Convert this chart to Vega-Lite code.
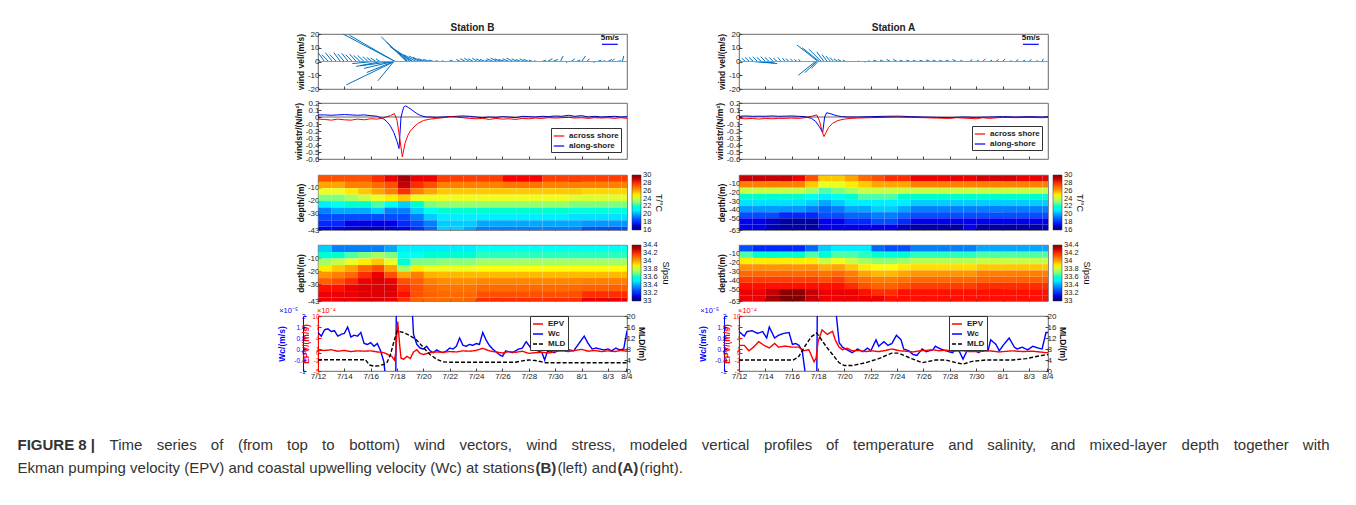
{
"$schema":"https://vega.github.io/schema/vega-lite/v6.json",
"padding":{"left":17,"top":22,"right":5,"bottom":5},
"background":"white",
"config":{
 "font":"Liberation Sans",
 "view":{"stroke":"#444","strokeWidth":0.8},
 "axis":{"domain":false,"grid":false,"ticks":true,"tickSize":-3,"tickColor":"#444","labelFontSize":8,"labelColor":"#222","labelPadding":2,"titleFontSize":8.5,"titleFontWeight":"bold","titleColor":"#111","titlePadding":2,"labelFont":"Liberation Sans","titleFont":"Liberation Sans","labelOverlap":false,"zindex":1},
 "legend":{"labelFontSize":7.5,"labelColor":"#222","titleFontSize":9,"titleFontWeight":"normal","titleColor":"#111","labelOverlap":false,"labelFont":"Liberation Sans","titleFont":"Liberation Sans"},
 "text":{"font":"Liberation Sans"}
},
"datasets":{
"windB":[{"t":0.2,"e":-0.2,"w":3},{"t":0.5,"e":0.0,"w":6.5},{"t":0.8,"e":0.3,"w":5},{"t":1.1,"e":0.55,"w":6.5},{"t":1.4,"e":0.9,"w":5},{"t":1.7,"e":1.2,"w":6.5},{"t":2.0,"e":1.5,"w":5.5},{"t":2.3,"e":1.8,"w":6},{"t":2.6,"e":2.1,"w":5},{"t":2.9,"e":2.4,"w":5.5},{"t":3.2,"e":2.7,"w":4.5},{"t":3.5,"e":3.0,"w":4.5},{"t":3.8,"e":3.4,"w":3.5},{"t":4.1,"e":3.7,"w":3},{"t":4.4,"e":4.0,"w":2.5},{"t":4.7,"e":4.4,"w":2},{"t":4.2,"e":2.6,"w":-1.5},{"t":4.8,"e":3.2,"w":-3},{"t":5.85,"e":1.9,"w":20},{"t":5.85,"e":2.4,"w":19},{"t":5.8,"e":2.15,"w":-17},{"t":5.75,"e":4.55,"w":-14},{"t":5.75,"e":3.7,"w":-8},{"t":5.7,"e":3.5,"w":-5},{"t":5.65,"e":2.9,"w":-3.5},{"t":6.7,"e":4.8,"w":18},{"t":6.8,"e":5.2,"w":14},{"t":6.95,"e":5.45,"w":11},{"t":7.1,"e":5.8,"w":9},{"t":7.2,"e":6.1,"w":7},{"t":7.45,"e":6.5,"w":5},{"t":7.7,"e":6.9,"w":4},{"t":7.95,"e":7.2,"w":3},{"t":8.2,"e":7.6,"w":2},{"t":8.5,"e":8.0,"w":1.5},{"t":8.8,"e":8.4,"w":1},{"t":9.2,"e":8.9,"w":0.5},{"t":9.6,"e":9.4,"w":0.5},{"t":10.3,"e":10.0,"w":1},{"t":10.8,"e":10.5,"w":1.5},{"t":11.2,"e":10.8,"w":2},{"t":11.5,"e":11.1,"w":2.5},{"t":11.8,"e":11.4,"w":2},{"t":12.1,"e":11.7,"w":2.5},{"t":12.4,"e":12.0,"w":2},{"t":12.7,"e":12.3,"w":1.5},{"t":13.0,"e":12.7,"w":1},{"t":13.3,"e":12.8,"w":2},{"t":13.6,"e":13.1,"w":2.5},{"t":13.9,"e":13.4,"w":2},{"t":14.2,"e":13.7,"w":1.5},{"t":14.5,"e":14.0,"w":2},{"t":14.8,"e":14.3,"w":2.5},{"t":15.1,"e":14.7,"w":2},{"t":15.4,"e":15.0,"w":1.5},{"t":15.7,"e":15.3,"w":2},{"t":16.0,"e":15.6,"w":1.5},{"t":16.3,"e":16.0,"w":1},{"t":16.6,"e":16.4,"w":0.5},{"t":17.0,"e":17.3,"w":1},{"t":17.4,"e":17.8,"w":2},{"t":17.8,"e":18.2,"w":1.5},{"t":18.4,"e":18.6,"w":4},{"t":18.8,"e":18.9,"w":-1},{"t":19.2,"e":19.5,"w":2},{"t":19.6,"e":19.9,"w":1},{"t":20.0,"e":20.3,"w":4},{"t":20.4,"e":20.6,"w":2},{"t":20.8,"e":21.0,"w":-0.5},{"t":21.2,"e":21.5,"w":1},{"t":21.6,"e":21.8,"w":0.5},{"t":22.0,"e":22.3,"w":1.5},{"t":22.3,"e":22.5,"w":2},{"t":22.7,"e":23.0,"w":0.5},{"t":23.1,"e":23.2,"w":4}],
"windA":[{"t":0.2,"e":-0.1,"w":1.5},{"t":0.5,"e":0.2,"w":2.5},{"t":0.8,"e":0.45,"w":3},{"t":1.1,"e":0.75,"w":3},{"t":1.4,"e":1.05,"w":3.5},{"t":1.7,"e":1.35,"w":3},{"t":2.0,"e":1.65,"w":3.5},{"t":2.3,"e":1.95,"w":3},{"t":2.6,"e":2.3,"w":3},{"t":2.9,"e":2.6,"w":2.5},{"t":3.2,"e":2.95,"w":3},{"t":3.5,"e":3.3,"w":2.5},{"t":3.8,"e":3.55,"w":2},{"t":4.1,"e":3.9,"w":2},{"t":4.4,"e":4.2,"w":1.5},{"t":4.7,"e":4.5,"w":1.5},{"t":1.1,"e":2.9,"w":-1.5},{"t":1.3,"e":2.7,"w":-1},{"t":1.5,"e":2.5,"w":-0.8},{"t":6.0,"e":4.4,"w":12},{"t":6.1,"e":4.8,"w":10},{"t":6.25,"e":5.3,"w":9},{"t":6.45,"e":5.9,"w":7},{"t":6.7,"e":6.3,"w":5},{"t":6.95,"e":6.6,"w":4},{"t":7.2,"e":6.9,"w":3},{"t":7.5,"e":7.2,"w":2},{"t":7.8,"e":7.5,"w":1.5},{"t":8.1,"e":7.9,"w":1},{"t":5.8,"e":4.5,"w":-10},{"t":5.9,"e":5.0,"w":-8},{"t":6.0,"e":5.5,"w":-5},{"t":9.0,"e":9.1,"w":0.5},{"t":9.5,"e":9.6,"w":-0.5},{"t":10.0,"e":9.8,"w":0.5},{"t":10.5,"e":10.2,"w":1},{"t":11.0,"e":10.7,"w":1},{"t":11.5,"e":11.2,"w":1.5},{"t":12.0,"e":11.7,"w":1.5},{"t":12.5,"e":12.2,"w":1},{"t":13.0,"e":12.7,"w":1},{"t":13.5,"e":13.2,"w":0.8},{"t":14.0,"e":13.7,"w":1},{"t":14.5,"e":14.2,"w":1.2},{"t":15.0,"e":14.7,"w":1},{"t":15.5,"e":15.2,"w":0.8},{"t":16.0,"e":15.7,"w":1},{"t":16.5,"e":16.2,"w":1.5},{"t":17.0,"e":16.8,"w":1},{"t":17.5,"e":17.7,"w":1.5},{"t":18.0,"e":18.2,"w":1},{"t":18.5,"e":18.7,"w":2},{"t":19.0,"e":19.2,"w":1},{"t":19.5,"e":19.7,"w":1.5},{"t":20.0,"e":20.2,"w":2},{"t":20.5,"e":20.7,"w":0.5},{"t":21.0,"e":21.2,"w":1.5},{"t":21.5,"e":21.7,"w":1},{"t":22.0,"e":22.2,"w":1.5},{"t":22.5,"e":22.7,"w":0.5},{"t":23.0,"e":23.1,"w":2}],
"stressB":[{"s":"along-shore","t":0,"v":0.03},{"s":"along-shore","t":0.5,"v":0.03},{"s":"along-shore","t":1,"v":0.025},{"s":"along-shore","t":1.5,"v":0.03},{"s":"along-shore","t":2,"v":0.035},{"s":"along-shore","t":2.5,"v":0.03},{"s":"along-shore","t":3,"v":0.025},{"s":"along-shore","t":3.5,"v":0.03},{"s":"along-shore","t":4,"v":0.02},{"s":"along-shore","t":4.5,"v":0.01},{"s":"along-shore","t":5,"v":-0.03},{"s":"along-shore","t":5.25,"v":-0.07},{"s":"along-shore","t":5.5,"v":-0.13},{"s":"along-shore","t":5.75,"v":-0.22},{"s":"along-shore","t":6,"v":-0.35},{"s":"along-shore","t":6.15,"v":-0.45},{"s":"along-shore","t":6.3,"v":0.0},{"s":"along-shore","t":6.5,"v":0.14},{"s":"along-shore","t":6.65,"v":0.16},{"s":"along-shore","t":6.9,"v":0.13},{"s":"along-shore","t":7.2,"v":0.09},{"s":"along-shore","t":7.5,"v":0.05},{"s":"along-shore","t":7.8,"v":0.02},{"s":"along-shore","t":8.2,"v":0.0},{"s":"along-shore","t":8.5,"v":0.0},{"s":"along-shore","t":9,"v":-0.005},{"s":"along-shore","t":9.5,"v":0.0},{"s":"along-shore","t":10,"v":0.005},{"s":"along-shore","t":10.5,"v":0.01},{"s":"along-shore","t":11,"v":0.015},{"s":"along-shore","t":11.5,"v":0.01},{"s":"along-shore","t":12,"v":0.0},{"s":"along-shore","t":12.5,"v":-0.01},{"s":"along-shore","t":13,"v":0.0},{"s":"along-shore","t":13.5,"v":-0.005},{"s":"along-shore","t":14,"v":0.005},{"s":"along-shore","t":14.5,"v":0.0},{"s":"along-shore","t":15,"v":-0.01},{"s":"along-shore","t":15.5,"v":0.01},{"s":"along-shore","t":16,"v":0.005},{"s":"along-shore","t":16.5,"v":0.0},{"s":"along-shore","t":17,"v":0.01},{"s":"along-shore","t":17.5,"v":0.005},{"s":"along-shore","t":18,"v":0.015},{"s":"along-shore","t":18.5,"v":0.01},{"s":"along-shore","t":19,"v":0.025},{"s":"along-shore","t":19.5,"v":0.01},{"s":"along-shore","t":20,"v":0.02},{"s":"along-shore","t":20.5,"v":0.0},{"s":"along-shore","t":21,"v":0.01},{"s":"along-shore","t":21.5,"v":0.0},{"s":"along-shore","t":22,"v":0.005},{"s":"along-shore","t":22.5,"v":0.01},{"s":"along-shore","t":23,"v":0.0},{"s":"along-shore","t":23.45,"v":0.005},
{"s":"across shore","t":0,"v":-0.03},{"s":"across shore","t":0.5,"v":-0.035},{"s":"across shore","t":1,"v":-0.045},{"s":"across shore","t":1.5,"v":-0.03},{"s":"across shore","t":2,"v":-0.04},{"s":"across shore","t":2.5,"v":-0.045},{"s":"across shore","t":3,"v":-0.03},{"s":"across shore","t":3.5,"v":-0.04},{"s":"across shore","t":4,"v":-0.025},{"s":"across shore","t":4.5,"v":-0.03},{"s":"across shore","t":5,"v":-0.01},{"s":"across shore","t":5.5,"v":0.02},{"s":"across shore","t":5.8,"v":0.05},{"s":"across shore","t":6.0,"v":-0.05},{"s":"across shore","t":6.2,"v":-0.3},{"s":"across shore","t":6.4,"v":-0.57},{"s":"across shore","t":6.6,"v":-0.38},{"s":"across shore","t":6.8,"v":-0.27},{"s":"across shore","t":7.0,"v":-0.2},{"s":"across shore","t":7.3,"v":-0.14},{"s":"across shore","t":7.6,"v":-0.09},{"s":"across shore","t":8.0,"v":-0.05},{"s":"across shore","t":8.5,"v":-0.03},{"s":"across shore","t":9,"v":-0.02},{"s":"across shore","t":9.5,"v":-0.01},{"s":"across shore","t":10,"v":0.005},{"s":"across shore","t":10.5,"v":0.0},{"s":"across shore","t":11,"v":-0.01},{"s":"across shore","t":11.5,"v":-0.02},{"s":"across shore","t":12,"v":-0.025},{"s":"across shore","t":12.5,"v":-0.02},{"s":"across shore","t":13,"v":-0.035},{"s":"across shore","t":13.5,"v":-0.02},{"s":"across shore","t":14,"v":-0.03},{"s":"across shore","t":14.5,"v":-0.025},{"s":"across shore","t":15,"v":-0.035},{"s":"across shore","t":15.5,"v":-0.02},{"s":"across shore","t":16,"v":-0.025},{"s":"across shore","t":16.5,"v":-0.015},{"s":"across shore","t":17,"v":-0.02},{"s":"across shore","t":17.5,"v":-0.01},{"s":"across shore","t":18,"v":-0.015},{"s":"across shore","t":18.5,"v":-0.01},{"s":"across shore","t":19,"v":-0.005},{"s":"across shore","t":19.5,"v":-0.015},{"s":"across shore","t":20,"v":-0.01},{"s":"across shore","t":20.5,"v":-0.02},{"s":"across shore","t":21,"v":-0.01},{"s":"across shore","t":21.5,"v":-0.015},{"s":"across shore","t":22,"v":-0.01},{"s":"across shore","t":22.5,"v":-0.02},{"s":"across shore","t":23,"v":-0.01},{"s":"across shore","t":23.45,"v":-0.02}],
"stressA":[{"s":"along-shore","t":0,"v":0.01},{"s":"along-shore","t":0.5,"v":0.015},{"s":"along-shore","t":1,"v":0.01},{"s":"along-shore","t":1.5,"v":0.012},{"s":"along-shore","t":2,"v":0.01},{"s":"along-shore","t":2.5,"v":0.015},{"s":"along-shore","t":3,"v":0.01},{"s":"along-shore","t":3.5,"v":0.012},{"s":"along-shore","t":4,"v":0.015},{"s":"along-shore","t":4.5,"v":0.01},{"s":"along-shore","t":5,"v":0.005},{"s":"along-shore","t":5.5,"v":-0.02},{"s":"along-shore","t":5.8,"v":-0.06},{"s":"along-shore","t":6.1,"v":-0.14},{"s":"along-shore","t":6.35,"v":-0.22},{"s":"along-shore","t":6.5,"v":0.0},{"s":"along-shore","t":6.65,"v":0.06},{"s":"along-shore","t":6.9,"v":0.05},{"s":"along-shore","t":7.2,"v":0.03},{"s":"along-shore","t":7.5,"v":0.015},{"s":"along-shore","t":7.8,"v":0.005},{"s":"along-shore","t":8.2,"v":0.0},{"s":"along-shore","t":9,"v":0.0},{"s":"along-shore","t":10,"v":0.005},{"s":"along-shore","t":11,"v":0.01},{"s":"along-shore","t":12,"v":0.012},{"s":"along-shore","t":12.5,"v":0.01},{"s":"along-shore","t":13,"v":0.005},{"s":"along-shore","t":14,"v":0.0},{"s":"along-shore","t":15,"v":-0.005},{"s":"along-shore","t":16,"v":-0.01},{"s":"along-shore","t":17,"v":0.0},{"s":"along-shore","t":18,"v":-0.005},{"s":"along-shore","t":19,"v":0.0},{"s":"along-shore","t":20,"v":0.005},{"s":"along-shore","t":21,"v":0.0},{"s":"along-shore","t":22,"v":0.005},{"s":"along-shore","t":23,"v":0.0},{"s":"along-shore","t":23.45,"v":0.005},
{"s":"across shore","t":0,"v":-0.02},{"s":"across shore","t":0.5,"v":-0.025},{"s":"across shore","t":1,"v":-0.02},{"s":"across shore","t":1.5,"v":-0.03},{"s":"across shore","t":2,"v":-0.02},{"s":"across shore","t":2.5,"v":-0.025},{"s":"across shore","t":3,"v":-0.02},{"s":"across shore","t":3.5,"v":-0.02},{"s":"across shore","t":4,"v":-0.015},{"s":"across shore","t":4.5,"v":-0.02},{"s":"across shore","t":5,"v":-0.01},{"s":"across shore","t":5.5,"v":0.01},{"s":"across shore","t":5.9,"v":0.03},{"s":"across shore","t":6.1,"v":-0.05},{"s":"across shore","t":6.3,"v":-0.2},{"s":"across shore","t":6.45,"v":-0.28},{"s":"across shore","t":6.6,"v":-0.22},{"s":"across shore","t":6.8,"v":-0.15},{"s":"across shore","t":7.1,"v":-0.09},{"s":"across shore","t":7.5,"v":-0.05},{"s":"across shore","t":8,"v":-0.03},{"s":"across shore","t":8.5,"v":-0.02},{"s":"across shore","t":9,"v":-0.015},{"s":"across shore","t":10,"v":-0.01},{"s":"across shore","t":11,"v":-0.005},{"s":"across shore","t":12,"v":0.0},{"s":"across shore","t":13,"v":-0.005},{"s":"across shore","t":14,"v":-0.01},{"s":"across shore","t":15,"v":-0.015},{"s":"across shore","t":16,"v":-0.02},{"s":"across shore","t":16.5,"v":-0.01},{"s":"across shore","t":17,"v":-0.015},{"s":"across shore","t":18,"v":-0.025},{"s":"across shore","t":18.5,"v":-0.01},{"s":"across shore","t":19,"v":-0.02},{"s":"across shore","t":20,"v":-0.005},{"s":"across shore","t":21,"v":-0.01},{"s":"across shore","t":22,"v":-0.005},{"s":"across shore","t":23,"v":-0.01},{"s":"across shore","t":23.45,"v":-0.005}],
"botB":[{"s":"Wc","t":0,"v":1.1},{"s":"Wc","t":0.25,"v":0.9},{"s":"Wc","t":0.5,"v":1.25},{"s":"Wc","t":0.75,"v":1.3},{"s":"Wc","t":1.0,"v":1.15},{"s":"Wc","t":1.25,"v":1.2},{"s":"Wc","t":1.5,"v":0.9},{"s":"Wc","t":1.75,"v":1.0},{"s":"Wc","t":2.0,"v":1.05},{"s":"Wc","t":2.25,"v":1.4},{"s":"Wc","t":2.5,"v":0.85},{"s":"Wc","t":2.75,"v":0.95},{"s":"Wc","t":3.0,"v":0.9},{"s":"Wc","t":3.25,"v":1.1},{"s":"Wc","t":3.5,"v":0.5},{"s":"Wc","t":3.75,"v":0.45},{"s":"Wc","t":4.0,"v":0.55},{"s":"Wc","t":4.25,"v":0.35},{"s":"Wc","t":4.5,"v":0.5},{"s":"Wc","t":4.75,"v":0.1},{"s":"Wc","t":5.0,"v":-0.5},{"s":"Wc","t":5.15,"v":-1.5},{"s":"Wc","t":5.9,"v":-1.5},{"s":"Wc","t":5.95,"v":3},{"s":"Wc","t":7.1,"v":3},{"s":"Wc","t":7.25,"v":1.0},{"s":"Wc","t":7.5,"v":0.45},{"s":"Wc","t":7.75,"v":0.25},{"s":"Wc","t":8.0,"v":0.2},{"s":"Wc","t":8.25,"v":0.35},{"s":"Wc","t":8.5,"v":0.1},{"s":"Wc","t":8.75,"v":0.0},{"s":"Wc","t":9.0,"v":0.15},{"s":"Wc","t":9.25,"v":0.05},{"s":"Wc","t":9.5,"v":0.0},{"s":"Wc","t":9.75,"v":0.1},{"s":"Wc","t":10.0,"v":0.25},{"s":"Wc","t":10.25,"v":0.2},{"s":"Wc","t":10.5,"v":0.35},{"s":"Wc","t":10.75,"v":0.8},{"s":"Wc","t":11.0,"v":0.4},{"s":"Wc","t":11.25,"v":0.35},{"s":"Wc","t":11.5,"v":0.45},{"s":"Wc","t":11.75,"v":0.4},{"s":"Wc","t":12.0,"v":0.5},{"s":"Wc","t":12.25,"v":0.45},{"s":"Wc","t":12.5,"v":1.1},{"s":"Wc","t":12.75,"v":0.7},{"s":"Wc","t":13.0,"v":0.4},{"s":"Wc","t":13.25,"v":0.2},{"s":"Wc","t":13.5,"v":0.05},{"s":"Wc","t":13.75,"v":-0.1},{"s":"Wc","t":14.0,"v":-0.2},{"s":"Wc","t":14.25,"v":0.1},{"s":"Wc","t":14.5,"v":0.05},{"s":"Wc","t":14.75,"v":0.0},{"s":"Wc","t":15.0,"v":0.1},{"s":"Wc","t":15.25,"v":0.2},{"s":"Wc","t":15.5,"v":0.25},{"s":"Wc","t":15.8,"v":0.6},{"s":"Wc","t":16.1,"v":0.3},{"s":"Wc","t":16.4,"v":0.15},{"s":"Wc","t":16.7,"v":0.1},{"s":"Wc","t":17.0,"v":0.0},{"s":"Wc","t":17.2,"v":-0.4},{"s":"Wc","t":17.4,"v":0.05},{"s":"Wc","t":17.6,"v":0.1},{"s":"Wc","t":17.9,"v":0.0},{"s":"Wc","t":18.2,"v":0.1},{"s":"Wc","t":18.5,"v":0.25},{"s":"Wc","t":18.8,"v":0.1},{"s":"Wc","t":19.1,"v":0.15},{"s":"Wc","t":19.4,"v":0.1},{"s":"Wc","t":19.7,"v":0.4},{"s":"Wc","t":20.2,"v":0.9},{"s":"Wc","t":20.5,"v":0.5},{"s":"Wc","t":20.8,"v":0.2},{"s":"Wc","t":21.1,"v":0.25},{"s":"Wc","t":21.4,"v":0.2},{"s":"Wc","t":21.7,"v":0.15},{"s":"Wc","t":22.0,"v":0.2},{"s":"Wc","t":22.3,"v":0.1},{"s":"Wc","t":22.6,"v":0.25},{"s":"Wc","t":22.9,"v":0.15},{"s":"Wc","t":23.2,"v":0.2},{"s":"Wc","t":23.45,"v":1.2},
{"s":"EPV","t":0,"v":0.7},{"s":"EPV","t":0.5,"v":0.6},{"s":"EPV","t":1,"v":0.8},{"s":"EPV","t":1.5,"v":0.4},{"s":"EPV","t":2,"v":0.6},{"s":"EPV","t":2.5,"v":0.3},{"s":"EPV","t":3,"v":0.5},{"s":"EPV","t":3.5,"v":0.4},{"s":"EPV","t":4,"v":0.5},{"s":"EPV","t":4.5,"v":0.2},{"s":"EPV","t":5,"v":0.0},{"s":"EPV","t":5.3,"v":-0.5},{"s":"EPV","t":5.6,"v":-1.0},{"s":"EPV","t":5.8,"v":-2.0},{"s":"EPV","t":5.9,"v":0.0},{"s":"EPV","t":6.05,"v":8.5},{"s":"EPV","t":6.2,"v":2.0},{"s":"EPV","t":6.3,"v":-1.5},{"s":"EPV","t":6.5,"v":-1.8},{"s":"EPV","t":6.75,"v":-1.0},{"s":"EPV","t":7.0,"v":-1.6},{"s":"EPV","t":7.25,"v":0.2},{"s":"EPV","t":7.5,"v":0.8},{"s":"EPV","t":7.75,"v":-0.2},{"s":"EPV","t":8.0,"v":-0.5},{"s":"EPV","t":8.5,"v":0.0},{"s":"EPV","t":9.0,"v":0.2},{"s":"EPV","t":9.5,"v":0.1},{"s":"EPV","t":10.0,"v":0.3},{"s":"EPV","t":10.5,"v":0.2},{"s":"EPV","t":11.0,"v":0.5},{"s":"EPV","t":11.5,"v":0.4},{"s":"EPV","t":12.0,"v":0.6},{"s":"EPV","t":12.5,"v":1.2},{"s":"EPV","t":13.0,"v":0.5},{"s":"EPV","t":13.5,"v":0.2},{"s":"EPV","t":14.0,"v":-0.1},{"s":"EPV","t":14.5,"v":0.3},{"s":"EPV","t":15.0,"v":0.1},{"s":"EPV","t":15.5,"v":0.4},{"s":"EPV","t":16.0,"v":-0.2},{"s":"EPV","t":16.5,"v":0.0},{"s":"EPV","t":17.0,"v":0.1},{"s":"EPV","t":17.5,"v":-0.1},{"s":"EPV","t":18.0,"v":0.3},{"s":"EPV","t":18.5,"v":0.5},{"s":"EPV","t":19.0,"v":0.3},{"s":"EPV","t":19.5,"v":0.6},{"s":"EPV","t":20.0,"v":0.9},{"s":"EPV","t":20.5,"v":0.4},{"s":"EPV","t":21.0,"v":0.6},{"s":"EPV","t":21.5,"v":0.3},{"s":"EPV","t":22.0,"v":0.5},{"s":"EPV","t":22.5,"v":0.3},{"s":"EPV","t":23.0,"v":0.6},{"s":"EPV","t":23.45,"v":0.4},
{"s":"MLD","t":0,"v":4.1},{"s":"MLD","t":3.6,"v":4.1},{"s":"MLD","t":3.9,"v":2.2},{"s":"MLD","t":4.2,"v":1.8},{"s":"MLD","t":4.6,"v":1.9},{"s":"MLD","t":5.0,"v":2.4},{"s":"MLD","t":5.25,"v":3.2},{"s":"MLD","t":5.5,"v":6.0},{"s":"MLD","t":5.75,"v":10.5},{"s":"MLD","t":6.0,"v":14.5},{"s":"MLD","t":6.5,"v":14.0},{"s":"MLD","t":7.0,"v":12.8},{"s":"MLD","t":7.5,"v":11.2},{"s":"MLD","t":8.0,"v":8.5},{"s":"MLD","t":8.5,"v":6.0},{"s":"MLD","t":9.0,"v":4.3},{"s":"MLD","t":9.5,"v":3.3},{"s":"MLD","t":10.0,"v":3.2},{"s":"MLD","t":15.0,"v":3.2},{"s":"MLD","t":15.5,"v":3.7},{"s":"MLD","t":16.0,"v":4.0},{"s":"MLD","t":16.5,"v":3.8},{"s":"MLD","t":17.0,"v":3.3},{"s":"MLD","t":17.3,"v":3.0},{"s":"MLD","t":23.45,"v":3.0}],
"botA":[{"s":"Wc","t":0,"v":1.15},{"s":"Wc","t":0.4,"v":0.9},{"s":"Wc","t":0.6,"v":1.15},{"s":"Wc","t":1.0,"v":1.2},{"s":"Wc","t":1.4,"v":1.05},{"s":"Wc","t":1.8,"v":1.15},{"s":"Wc","t":2.1,"v":0.8},{"s":"Wc","t":2.3,"v":1.4},{"s":"Wc","t":2.7,"v":0.8},{"s":"Wc","t":3.0,"v":0.95},{"s":"Wc","t":3.4,"v":1.05},{"s":"Wc","t":3.8,"v":1.1},{"s":"Wc","t":4.05,"v":0.45},{"s":"Wc","t":4.3,"v":0.5},{"s":"Wc","t":4.55,"v":0.4},{"s":"Wc","t":4.8,"v":0.1},{"s":"Wc","t":5.1,"v":-1.5},{"s":"Wc","t":5.9,"v":-1.5},{"s":"Wc","t":5.95,"v":3},{"s":"Wc","t":7.25,"v":3},{"s":"Wc","t":7.6,"v":0.55},{"s":"Wc","t":7.85,"v":0.3},{"s":"Wc","t":8.2,"v":0.15},{"s":"Wc","t":8.6,"v":0.0},{"s":"Wc","t":9.0,"v":0.2},{"s":"Wc","t":9.4,"v":0.05},{"s":"Wc","t":9.75,"v":0.25},{"s":"Wc","t":10.0,"v":0.1},{"s":"Wc","t":10.4,"v":0.7},{"s":"Wc","t":10.6,"v":0.35},{"s":"Wc","t":11.0,"v":0.6},{"s":"Wc","t":11.3,"v":0.4},{"s":"Wc","t":11.6,"v":0.5},{"s":"Wc","t":11.95,"v":0.95},{"s":"Wc","t":12.3,"v":0.7},{"s":"Wc","t":12.5,"v":0.2},{"s":"Wc","t":12.9,"v":0.1},{"s":"Wc","t":13.2,"v":-0.1},{"s":"Wc","t":13.5,"v":-0.15},{"s":"Wc","t":13.9,"v":0.2},{"s":"Wc","t":14.2,"v":0.05},{"s":"Wc","t":14.7,"v":0.15},{"s":"Wc","t":14.9,"v":0.35},{"s":"Wc","t":15.3,"v":0.2},{"s":"Wc","t":15.7,"v":0.1},{"s":"Wc","t":16.2,"v":0.0},{"s":"Wc","t":16.6,"v":0.25},{"s":"Wc","t":17.0,"v":-0.35},{"s":"Wc","t":17.3,"v":0.1},{"s":"Wc","t":17.8,"v":0.15},{"s":"Wc","t":18.2,"v":0.0},{"s":"Wc","t":18.5,"v":0.25},{"s":"Wc","t":18.9,"v":0.1},{"s":"Wc","t":19.1,"v":0.7},{"s":"Wc","t":19.5,"v":0.45},{"s":"Wc","t":19.75,"v":0.1},{"s":"Wc","t":20.1,"v":0.45},{"s":"Wc","t":20.5,"v":0.8},{"s":"Wc","t":20.9,"v":0.3},{"s":"Wc","t":21.1,"v":0.2},{"s":"Wc","t":21.5,"v":0.3},{"s":"Wc","t":21.9,"v":0.15},{"s":"Wc","t":22.3,"v":0.35},{"s":"Wc","t":22.7,"v":0.25},{"s":"Wc","t":23.0,"v":0.2},{"s":"Wc","t":23.3,"v":1.1},{"s":"Wc","t":23.45,"v":1.1},
{"s":"EPV","t":0,"v":2.0},{"s":"EPV","t":0.4,"v":2.0},{"s":"EPV","t":0.75,"v":0.5},{"s":"EPV","t":1.1,"v":1.5},{"s":"EPV","t":1.5,"v":3.0},{"s":"EPV","t":1.9,"v":2.0},{"s":"EPV","t":2.3,"v":1.3},{"s":"EPV","t":2.7,"v":2.5},{"s":"EPV","t":3.0,"v":1.5},{"s":"EPV","t":3.5,"v":1.8},{"s":"EPV","t":4.05,"v":1.5},{"s":"EPV","t":4.55,"v":1.5},{"s":"EPV","t":4.9,"v":0.5},{"s":"EPV","t":5.3,"v":0.8},{"s":"EPV","t":5.7,"v":-2.5},{"s":"EPV","t":5.85,"v":-1.5},{"s":"EPV","t":6.0,"v":3.0},{"s":"EPV","t":6.3,"v":6.2},{"s":"EPV","t":6.7,"v":5.0},{"s":"EPV","t":7.1,"v":5.8},{"s":"EPV","t":7.3,"v":3.5},{"s":"EPV","t":7.6,"v":1.5},{"s":"EPV","t":7.85,"v":0.8},{"s":"EPV","t":8.2,"v":1.2},{"s":"EPV","t":8.6,"v":0.5},{"s":"EPV","t":9.1,"v":0.6},{"s":"EPV","t":9.6,"v":0.3},{"s":"EPV","t":10.1,"v":0.5},{"s":"EPV","t":10.6,"v":0.3},{"s":"EPV","t":11.1,"v":0.6},{"s":"EPV","t":11.6,"v":1.0},{"s":"EPV","t":12.2,"v":0.5},{"s":"EPV","t":12.7,"v":0.4},{"s":"EPV","t":13.2,"v":0.2},{"s":"EPV","t":13.7,"v":0.5},{"s":"EPV","t":14.2,"v":0.6},{"s":"EPV","t":14.7,"v":0.8},{"s":"EPV","t":15.2,"v":0.5},{"s":"EPV","t":15.7,"v":0.7},{"s":"EPV","t":16.2,"v":0.4},{"s":"EPV","t":17.0,"v":0.5},{"s":"EPV","t":17.5,"v":0.3},{"s":"EPV","t":18.2,"v":0.3},{"s":"EPV","t":19.0,"v":0.5},{"s":"EPV","t":19.75,"v":0.2},{"s":"EPV","t":20.75,"v":0.5},{"s":"EPV","t":21.5,"v":0.3},{"s":"EPV","t":22.3,"v":0.4},{"s":"EPV","t":22.8,"v":0.2},{"s":"EPV","t":23.3,"v":0.0},{"s":"EPV","t":23.45,"v":0.0},
{"s":"MLD","t":0,"v":4.0},{"s":"MLD","t":4.1,"v":4.0},{"s":"MLD","t":4.5,"v":5.0},{"s":"MLD","t":5.0,"v":9.0},{"s":"MLD","t":5.5,"v":12.5},{"s":"MLD","t":5.9,"v":13.8},{"s":"MLD","t":6.1,"v":12.5},{"s":"MLD","t":6.6,"v":9.0},{"s":"MLD","t":7.1,"v":6.0},{"s":"MLD","t":7.6,"v":3.0},{"s":"MLD","t":8.0,"v":2.0},{"s":"MLD","t":8.6,"v":2.0},{"s":"MLD","t":9.6,"v":3.0},{"s":"MLD","t":10.6,"v":4.5},{"s":"MLD","t":11.6,"v":6.5},{"s":"MLD","t":12.1,"v":6.5},{"s":"MLD","t":12.6,"v":5.5},{"s":"MLD","t":13.1,"v":4.5},{"s":"MLD","t":13.9,"v":3.0},{"s":"MLD","t":14.9,"v":4.0},{"s":"MLD","t":15.7,"v":4.0},{"s":"MLD","t":16.5,"v":3.0},{"s":"MLD","t":17.0,"v":2.5},{"s":"MLD","t":17.7,"v":3.5},{"s":"MLD","t":18.7,"v":4.0},{"s":"MLD","t":20.75,"v":4.0},{"s":"MLD","t":21.8,"v":4.5},{"s":"MLD","t":22.8,"v":5.5},{"s":"MLD","t":23.45,"v":6.0}],
"TB":[
{"t":0,"d":-5,"v":27.5},{"t":0,"d":-10,"v":26},{"t":0,"d":-15,"v":24.5},{"t":0,"d":-20,"v":23},{"t":0,"d":-25,"v":21},{"t":0,"d":-30,"v":19.5},{"t":0,"d":-35,"v":18.5},{"t":0,"d":-40,"v":18},{"t":0,"d":-45,"v":17.5},
{"t":1,"d":-5,"v":27.5},{"t":1,"d":-10,"v":26},{"t":1,"d":-15,"v":24.5},{"t":1,"d":-20,"v":23},{"t":1,"d":-25,"v":21.5},{"t":1,"d":-30,"v":20},{"t":1,"d":-35,"v":18.5},{"t":1,"d":-40,"v":18},{"t":1,"d":-45,"v":17.5},
{"t":2,"d":-5,"v":27.5},{"t":2,"d":-10,"v":26.5},{"t":2,"d":-15,"v":25},{"t":2,"d":-20,"v":23.5},{"t":2,"d":-25,"v":22},{"t":2,"d":-30,"v":20},{"t":2,"d":-35,"v":18.5},{"t":2,"d":-40,"v":17.5},{"t":2,"d":-45,"v":17},
{"t":3,"d":-5,"v":27.5},{"t":3,"d":-10,"v":26.5},{"t":3,"d":-15,"v":25.5},{"t":3,"d":-20,"v":24},{"t":3,"d":-25,"v":22},{"t":3,"d":-30,"v":20},{"t":3,"d":-35,"v":18.5},{"t":3,"d":-40,"v":17.5},{"t":3,"d":-45,"v":16.5},
{"t":4,"d":-5,"v":28},{"t":4,"d":-10,"v":27},{"t":4,"d":-15,"v":26},{"t":4,"d":-20,"v":24.5},{"t":4,"d":-25,"v":22.5},{"t":4,"d":-30,"v":20.5},{"t":4,"d":-35,"v":18.5},{"t":4,"d":-40,"v":17.5},{"t":4,"d":-45,"v":16.5},
{"t":5,"d":-5,"v":28.5},{"t":5,"d":-10,"v":27.5},{"t":5,"d":-15,"v":26.5},{"t":5,"d":-20,"v":25},{"t":5,"d":-25,"v":21.5},{"t":5,"d":-30,"v":19.5},{"t":5,"d":-35,"v":18.5},{"t":5,"d":-40,"v":17.5},{"t":5,"d":-45,"v":17},
{"t":6,"d":-5,"v":29.5},{"t":6,"d":-10,"v":29},{"t":6,"d":-15,"v":28},{"t":6,"d":-20,"v":25.5},{"t":6,"d":-25,"v":20.5},{"t":6,"d":-30,"v":19.5},{"t":6,"d":-35,"v":18.5},{"t":6,"d":-40,"v":18},{"t":6,"d":-45,"v":17.5},
{"t":7,"d":-5,"v":28.5},{"t":7,"d":-10,"v":28},{"t":7,"d":-15,"v":26.5},{"t":7,"d":-20,"v":24.5},{"t":7,"d":-25,"v":22},{"t":7,"d":-30,"v":20.5},{"t":7,"d":-35,"v":19.5},{"t":7,"d":-40,"v":18.5},{"t":7,"d":-45,"v":18},
{"t":8,"d":-5,"v":28.5},{"t":8,"d":-10,"v":27.5},{"t":8,"d":-15,"v":26},{"t":8,"d":-20,"v":24.5},{"t":8,"d":-25,"v":23},{"t":8,"d":-30,"v":21.5},{"t":8,"d":-35,"v":20.5},{"t":8,"d":-40,"v":19.5},{"t":8,"d":-45,"v":19},
{"t":9,"d":-5,"v":27.8},{"t":9,"d":-10,"v":26.5},{"t":9,"d":-15,"v":25.5},{"t":9,"d":-20,"v":24.5},{"t":9,"d":-25,"v":23.3},{"t":9,"d":-30,"v":22},{"t":9,"d":-35,"v":21},{"t":9,"d":-40,"v":20.5},{"t":9,"d":-45,"v":20.5},
{"t":10,"d":-5,"v":27.8},{"t":10,"d":-10,"v":26.5},{"t":10,"d":-15,"v":25.5},{"t":10,"d":-20,"v":24.5},{"t":10,"d":-25,"v":23.3},{"t":10,"d":-30,"v":22},{"t":10,"d":-35,"v":21},{"t":10,"d":-40,"v":20.5},{"t":10,"d":-45,"v":20.5},
{"t":11,"d":-5,"v":27.8},{"t":11,"d":-10,"v":26.5},{"t":11,"d":-15,"v":25.5},{"t":11,"d":-20,"v":24.5},{"t":11,"d":-25,"v":23.3},{"t":11,"d":-30,"v":22},{"t":11,"d":-35,"v":21},{"t":11,"d":-40,"v":20.5},{"t":11,"d":-45,"v":20},
{"t":12,"d":-5,"v":27.8},{"t":12,"d":-10,"v":26.5},{"t":12,"d":-15,"v":25.5},{"t":12,"d":-20,"v":24.5},{"t":12,"d":-25,"v":23.3},{"t":12,"d":-30,"v":22},{"t":12,"d":-35,"v":21},{"t":12,"d":-40,"v":20},{"t":12,"d":-45,"v":19.5},
{"t":13,"d":-5,"v":27.8},{"t":13,"d":-10,"v":26.5},{"t":13,"d":-15,"v":25.5},{"t":13,"d":-20,"v":24.5},{"t":13,"d":-25,"v":23.3},{"t":13,"d":-30,"v":22},{"t":13,"d":-35,"v":21},{"t":13,"d":-40,"v":20},{"t":13,"d":-45,"v":19.5},
{"t":14,"d":-5,"v":28.3},{"t":14,"d":-10,"v":26.8},{"t":14,"d":-15,"v":25.5},{"t":14,"d":-20,"v":24.5},{"t":14,"d":-25,"v":23.3},{"t":14,"d":-30,"v":22},{"t":14,"d":-35,"v":21},{"t":14,"d":-40,"v":20},{"t":14,"d":-45,"v":19.5},
{"t":15,"d":-5,"v":28.3},{"t":15,"d":-10,"v":26.8},{"t":15,"d":-15,"v":25.5},{"t":15,"d":-20,"v":24.5},{"t":15,"d":-25,"v":23.3},{"t":15,"d":-30,"v":22},{"t":15,"d":-35,"v":21},{"t":15,"d":-40,"v":20},{"t":15,"d":-45,"v":19.5},
{"t":16,"d":-5,"v":28.3},{"t":16,"d":-10,"v":26.8},{"t":16,"d":-15,"v":25.5},{"t":16,"d":-20,"v":24.5},{"t":16,"d":-25,"v":23.3},{"t":16,"d":-30,"v":22},{"t":16,"d":-35,"v":21},{"t":16,"d":-40,"v":20},{"t":16,"d":-45,"v":19.5},
{"t":17,"d":-5,"v":27.8},{"t":17,"d":-10,"v":26.5},{"t":17,"d":-15,"v":25.5},{"t":17,"d":-20,"v":24.5},{"t":17,"d":-25,"v":23.3},{"t":17,"d":-30,"v":22},{"t":17,"d":-35,"v":21},{"t":17,"d":-40,"v":20},{"t":17,"d":-45,"v":19.5},
{"t":18,"d":-5,"v":27.8},{"t":18,"d":-10,"v":26.5},{"t":18,"d":-15,"v":25.5},{"t":18,"d":-20,"v":24.5},{"t":18,"d":-25,"v":23.3},{"t":18,"d":-30,"v":22},{"t":18,"d":-35,"v":21},{"t":18,"d":-40,"v":20},{"t":18,"d":-45,"v":19.5},
{"t":19,"d":-5,"v":27.8},{"t":19,"d":-10,"v":26.5},{"t":19,"d":-15,"v":25.5},{"t":19,"d":-20,"v":24.3},{"t":19,"d":-25,"v":23},{"t":19,"d":-30,"v":21.8},{"t":19,"d":-35,"v":20.8},{"t":19,"d":-40,"v":20},{"t":19,"d":-45,"v":19.5},
{"t":20,"d":-5,"v":27.8},{"t":20,"d":-10,"v":26.5},{"t":20,"d":-15,"v":25.3},{"t":20,"d":-20,"v":24.3},{"t":20,"d":-25,"v":23},{"t":20,"d":-30,"v":21.8},{"t":20,"d":-35,"v":20.8},{"t":20,"d":-40,"v":19.8},{"t":20,"d":-45,"v":18.5},
{"t":21,"d":-5,"v":27.8},{"t":21,"d":-10,"v":26.5},{"t":21,"d":-15,"v":25.3},{"t":21,"d":-20,"v":24.3},{"t":21,"d":-25,"v":23},{"t":21,"d":-30,"v":21.8},{"t":21,"d":-35,"v":20.8},{"t":21,"d":-40,"v":19.8},{"t":21,"d":-45,"v":18.5},
{"t":22,"d":-5,"v":27.8},{"t":22,"d":-10,"v":26.5},{"t":22,"d":-15,"v":25.3},{"t":22,"d":-20,"v":24.3},{"t":22,"d":-25,"v":23},{"t":22,"d":-30,"v":21.8},{"t":22,"d":-35,"v":20.8},{"t":22,"d":-40,"v":19.8},{"t":22,"d":-45,"v":18.5},
{"t":23,"d":-5,"v":27.8},{"t":23,"d":-10,"v":26.5},{"t":23,"d":-15,"v":25.3},{"t":23,"d":-20,"v":24.3},{"t":23,"d":-25,"v":23},{"t":23,"d":-30,"v":21.8},{"t":23,"d":-35,"v":20.8},{"t":23,"d":-40,"v":19.8},{"t":23,"d":-45,"v":18.5}],
"SB":[
{"t":0,"d":-5,"v":33.45},{"t":0,"d":-10,"v":33.6},{"t":0,"d":-15,"v":33.75},{"t":0,"d":-20,"v":33.9},{"t":0,"d":-25,"v":34.02},{"t":0,"d":-30,"v":34.12},{"t":0,"d":-35,"v":34.22},{"t":0,"d":-40,"v":34.25},{"t":0,"d":-45,"v":34.25},
{"t":1,"d":-5,"v":33.35},{"t":1,"d":-10,"v":33.6},{"t":1,"d":-15,"v":33.8},{"t":1,"d":-20,"v":33.95},{"t":1,"d":-25,"v":34.05},{"t":1,"d":-30,"v":34.15},{"t":1,"d":-35,"v":34.22},{"t":1,"d":-40,"v":34.25},{"t":1,"d":-45,"v":34.25},
{"t":2,"d":-5,"v":33.35},{"t":2,"d":-10,"v":33.65},{"t":2,"d":-15,"v":33.85},{"t":2,"d":-20,"v":34},{"t":2,"d":-25,"v":34.1},{"t":2,"d":-30,"v":34.2},{"t":2,"d":-35,"v":34.25},{"t":2,"d":-40,"v":34.25},{"t":2,"d":-45,"v":34.25},
{"t":3,"d":-5,"v":33.35},{"t":3,"d":-10,"v":33.7},{"t":3,"d":-15,"v":33.9},{"t":3,"d":-20,"v":34.1},{"t":3,"d":-25,"v":34.2},{"t":3,"d":-30,"v":34.25},{"t":3,"d":-35,"v":34.27},{"t":3,"d":-40,"v":34.27},{"t":3,"d":-45,"v":34.27},
{"t":4,"d":-5,"v":33.35},{"t":4,"d":-10,"v":33.75},{"t":4,"d":-15,"v":33.95},{"t":4,"d":-20,"v":34.15},{"t":4,"d":-25,"v":34.25},{"t":4,"d":-30,"v":34.27},{"t":4,"d":-35,"v":34.27},{"t":4,"d":-40,"v":34.27},{"t":4,"d":-45,"v":34.27},
{"t":5,"d":-5,"v":33.4},{"t":5,"d":-10,"v":33.7},{"t":5,"d":-15,"v":33.85},{"t":5,"d":-20,"v":34},{"t":5,"d":-25,"v":34.15},{"t":5,"d":-30,"v":34.25},{"t":5,"d":-35,"v":34.27},{"t":5,"d":-40,"v":34.27},{"t":5,"d":-45,"v":34.25},
{"t":6,"d":-5,"v":33.5},{"t":6,"d":-10,"v":33.55},{"t":6,"d":-15,"v":33.6},{"t":6,"d":-20,"v":33.75},{"t":6,"d":-25,"v":34},{"t":6,"d":-30,"v":34.15},{"t":6,"d":-35,"v":34.2},{"t":6,"d":-40,"v":34.22},{"t":6,"d":-45,"v":34.2},
{"t":7,"d":-5,"v":33.5},{"t":7,"d":-10,"v":33.55},{"t":7,"d":-15,"v":33.7},{"t":7,"d":-20,"v":33.9},{"t":7,"d":-25,"v":34.05},{"t":7,"d":-30,"v":34.12},{"t":7,"d":-35,"v":34.15},{"t":7,"d":-40,"v":34.15},{"t":7,"d":-45,"v":34.12},
{"t":8,"d":-5,"v":33.5},{"t":8,"d":-10,"v":33.6},{"t":8,"d":-15,"v":33.7},{"t":8,"d":-20,"v":33.85},{"t":8,"d":-25,"v":33.98},{"t":8,"d":-30,"v":34.05},{"t":8,"d":-35,"v":34.1},{"t":8,"d":-40,"v":34.12},{"t":8,"d":-45,"v":34.1},
{"t":9,"d":-5,"v":33.5},{"t":9,"d":-10,"v":33.6},{"t":9,"d":-15,"v":33.72},{"t":9,"d":-20,"v":33.85},{"t":9,"d":-25,"v":33.97},{"t":9,"d":-30,"v":34.03},{"t":9,"d":-35,"v":34.08},{"t":9,"d":-40,"v":34.1},{"t":9,"d":-45,"v":34.1},
{"t":10,"d":-5,"v":33.5},{"t":10,"d":-10,"v":33.6},{"t":10,"d":-15,"v":33.72},{"t":10,"d":-20,"v":33.85},{"t":10,"d":-25,"v":33.97},{"t":10,"d":-30,"v":34.03},{"t":10,"d":-35,"v":34.08},{"t":10,"d":-40,"v":34.1},{"t":10,"d":-45,"v":34.1},
{"t":11,"d":-5,"v":33.5},{"t":11,"d":-10,"v":33.6},{"t":11,"d":-15,"v":33.72},{"t":11,"d":-20,"v":33.85},{"t":11,"d":-25,"v":33.97},{"t":11,"d":-30,"v":34.03},{"t":11,"d":-35,"v":34.08},{"t":11,"d":-40,"v":34.1},{"t":11,"d":-45,"v":34.12},
{"t":12,"d":-5,"v":33.55},{"t":12,"d":-10,"v":33.62},{"t":12,"d":-15,"v":33.75},{"t":12,"d":-20,"v":33.87},{"t":12,"d":-25,"v":33.97},{"t":12,"d":-30,"v":34.04},{"t":12,"d":-35,"v":34.1},{"t":12,"d":-40,"v":34.15},{"t":12,"d":-45,"v":34.2},
{"t":13,"d":-5,"v":33.55},{"t":13,"d":-10,"v":33.62},{"t":13,"d":-15,"v":33.75},{"t":13,"d":-20,"v":33.87},{"t":13,"d":-25,"v":33.97},{"t":13,"d":-30,"v":34.04},{"t":13,"d":-35,"v":34.1},{"t":13,"d":-40,"v":34.15},{"t":13,"d":-45,"v":34.2},
{"t":14,"d":-5,"v":33.55},{"t":14,"d":-10,"v":33.62},{"t":14,"d":-15,"v":33.75},{"t":14,"d":-20,"v":33.87},{"t":14,"d":-25,"v":33.97},{"t":14,"d":-30,"v":34.04},{"t":14,"d":-35,"v":34.1},{"t":14,"d":-40,"v":34.15},{"t":14,"d":-45,"v":34.2},
{"t":15,"d":-5,"v":33.55},{"t":15,"d":-10,"v":33.62},{"t":15,"d":-15,"v":33.75},{"t":15,"d":-20,"v":33.87},{"t":15,"d":-25,"v":33.97},{"t":15,"d":-30,"v":34.04},{"t":15,"d":-35,"v":34.1},{"t":15,"d":-40,"v":34.15},{"t":15,"d":-45,"v":34.2},
{"t":16,"d":-5,"v":33.55},{"t":16,"d":-10,"v":33.62},{"t":16,"d":-15,"v":33.75},{"t":16,"d":-20,"v":33.87},{"t":16,"d":-25,"v":33.97},{"t":16,"d":-30,"v":34.04},{"t":16,"d":-35,"v":34.1},{"t":16,"d":-40,"v":34.15},{"t":16,"d":-45,"v":34.2},
{"t":17,"d":-5,"v":33.55},{"t":17,"d":-10,"v":33.62},{"t":17,"d":-15,"v":33.75},{"t":17,"d":-20,"v":33.87},{"t":17,"d":-25,"v":33.97},{"t":17,"d":-30,"v":34.04},{"t":17,"d":-35,"v":34.1},{"t":17,"d":-40,"v":34.15},{"t":17,"d":-45,"v":34.2},
{"t":18,"d":-5,"v":33.55},{"t":18,"d":-10,"v":33.62},{"t":18,"d":-15,"v":33.75},{"t":18,"d":-20,"v":33.87},{"t":18,"d":-25,"v":33.97},{"t":18,"d":-30,"v":34.04},{"t":18,"d":-35,"v":34.1},{"t":18,"d":-40,"v":34.15},{"t":18,"d":-45,"v":34.2},
{"t":19,"d":-5,"v":33.55},{"t":19,"d":-10,"v":33.62},{"t":19,"d":-15,"v":33.75},{"t":19,"d":-20,"v":33.87},{"t":19,"d":-25,"v":33.97},{"t":19,"d":-30,"v":34.04},{"t":19,"d":-35,"v":34.1},{"t":19,"d":-40,"v":34.15},{"t":19,"d":-45,"v":34.2},
{"t":20,"d":-5,"v":33.55},{"t":20,"d":-10,"v":33.62},{"t":20,"d":-15,"v":33.75},{"t":20,"d":-20,"v":33.87},{"t":20,"d":-25,"v":33.97},{"t":20,"d":-30,"v":34.05},{"t":20,"d":-35,"v":34.12},{"t":20,"d":-40,"v":34.2},{"t":20,"d":-45,"v":34.25},
{"t":21,"d":-5,"v":33.55},{"t":21,"d":-10,"v":33.62},{"t":21,"d":-15,"v":33.75},{"t":21,"d":-20,"v":33.87},{"t":21,"d":-25,"v":33.97},{"t":21,"d":-30,"v":34.05},{"t":21,"d":-35,"v":34.12},{"t":21,"d":-40,"v":34.2},{"t":21,"d":-45,"v":34.25},
{"t":22,"d":-5,"v":33.55},{"t":22,"d":-10,"v":33.62},{"t":22,"d":-15,"v":33.75},{"t":22,"d":-20,"v":33.87},{"t":22,"d":-25,"v":33.97},{"t":22,"d":-30,"v":34.05},{"t":22,"d":-35,"v":34.12},{"t":22,"d":-40,"v":34.2},{"t":22,"d":-45,"v":34.25},
{"t":23,"d":-5,"v":33.55},{"t":23,"d":-10,"v":33.62},{"t":23,"d":-15,"v":33.75},{"t":23,"d":-20,"v":33.87},{"t":23,"d":-25,"v":33.97},{"t":23,"d":-30,"v":34.05},{"t":23,"d":-35,"v":34.12},{"t":23,"d":-40,"v":34.2},{"t":23,"d":-45,"v":34.25}],
"TA":[
{"t":0,"d":-7,"v":29},{"t":0,"d":-14,"v":26.5},{"t":0,"d":-21,"v":24},{"t":0,"d":-28,"v":22},{"t":0,"d":-35,"v":20.8},{"t":0,"d":-42,"v":19.8},{"t":0,"d":-49,"v":18.5},{"t":0,"d":-56,"v":17.5},{"t":0,"d":-63,"v":17.5},
{"t":1,"d":-7,"v":29},{"t":1,"d":-14,"v":26.5},{"t":1,"d":-21,"v":24},{"t":1,"d":-28,"v":22},{"t":1,"d":-35,"v":20.8},{"t":1,"d":-42,"v":19.8},{"t":1,"d":-49,"v":18.5},{"t":1,"d":-56,"v":17.5},{"t":1,"d":-63,"v":17.5},
{"t":2,"d":-7,"v":29},{"t":2,"d":-14,"v":26.5},{"t":2,"d":-21,"v":24},{"t":2,"d":-28,"v":22},{"t":2,"d":-35,"v":20.8},{"t":2,"d":-42,"v":19.8},{"t":2,"d":-49,"v":18.5},{"t":2,"d":-56,"v":17},{"t":2,"d":-63,"v":16.8},
{"t":3,"d":-7,"v":29},{"t":3,"d":-14,"v":26.5},{"t":3,"d":-21,"v":24},{"t":3,"d":-28,"v":22},{"t":3,"d":-35,"v":20.8},{"t":3,"d":-42,"v":19.8},{"t":3,"d":-49,"v":18},{"t":3,"d":-56,"v":16.5},{"t":3,"d":-63,"v":16.5},
{"t":4,"d":-7,"v":28.5},{"t":4,"d":-14,"v":26.5},{"t":4,"d":-21,"v":24},{"t":4,"d":-28,"v":22},{"t":4,"d":-35,"v":20.8},{"t":4,"d":-42,"v":19.8},{"t":4,"d":-49,"v":18},{"t":4,"d":-56,"v":16.5},{"t":4,"d":-63,"v":16.5},
{"t":5,"d":-7,"v":27.5},{"t":5,"d":-14,"v":25.5},{"t":5,"d":-21,"v":23.5},{"t":5,"d":-28,"v":21.5},{"t":5,"d":-35,"v":20.5},{"t":5,"d":-42,"v":19.5},{"t":5,"d":-49,"v":18},{"t":5,"d":-56,"v":16.5},{"t":5,"d":-63,"v":16.5},
{"t":6,"d":-7,"v":25.5},{"t":6,"d":-14,"v":24.5},{"t":6,"d":-21,"v":22.5},{"t":6,"d":-28,"v":21},{"t":6,"d":-35,"v":20},{"t":6,"d":-42,"v":19},{"t":6,"d":-49,"v":18.5},{"t":6,"d":-56,"v":17.5},{"t":6,"d":-63,"v":17.5},
{"t":7,"d":-7,"v":25.5},{"t":7,"d":-14,"v":24.5},{"t":7,"d":-21,"v":23},{"t":7,"d":-28,"v":21.5},{"t":7,"d":-35,"v":20.5},{"t":7,"d":-42,"v":19.5},{"t":7,"d":-49,"v":18.5},{"t":7,"d":-56,"v":17.5},{"t":7,"d":-63,"v":17.5},
{"t":8,"d":-7,"v":26},{"t":8,"d":-14,"v":25},{"t":8,"d":-21,"v":23.5},{"t":8,"d":-28,"v":22},{"t":8,"d":-35,"v":21},{"t":8,"d":-42,"v":20},{"t":8,"d":-49,"v":19},{"t":8,"d":-56,"v":18},{"t":8,"d":-63,"v":17.5},
{"t":9,"d":-7,"v":27},{"t":9,"d":-14,"v":25.5},{"t":9,"d":-21,"v":24},{"t":9,"d":-28,"v":22.5},{"t":9,"d":-35,"v":21},{"t":9,"d":-42,"v":20},{"t":9,"d":-49,"v":19},{"t":9,"d":-56,"v":18},{"t":9,"d":-63,"v":17.5},
{"t":10,"d":-7,"v":27.5},{"t":10,"d":-14,"v":26},{"t":10,"d":-21,"v":24},{"t":10,"d":-28,"v":22.5},{"t":10,"d":-35,"v":21},{"t":10,"d":-42,"v":20.5},{"t":10,"d":-49,"v":19.5},{"t":10,"d":-56,"v":18.5},{"t":10,"d":-63,"v":17.5},
{"t":11,"d":-7,"v":28},{"t":11,"d":-14,"v":26},{"t":11,"d":-21,"v":24},{"t":11,"d":-28,"v":22.5},{"t":11,"d":-35,"v":21},{"t":11,"d":-42,"v":20.5},{"t":11,"d":-49,"v":19.5},{"t":11,"d":-56,"v":18.5},{"t":11,"d":-63,"v":17.5},
{"t":12,"d":-7,"v":28},{"t":12,"d":-14,"v":26},{"t":12,"d":-21,"v":24},{"t":12,"d":-28,"v":22},{"t":12,"d":-35,"v":21},{"t":12,"d":-42,"v":20},{"t":12,"d":-49,"v":19},{"t":12,"d":-56,"v":18},{"t":12,"d":-63,"v":16.8},
{"t":13,"d":-7,"v":28.5},{"t":13,"d":-14,"v":26.5},{"t":13,"d":-21,"v":24},{"t":13,"d":-28,"v":22},{"t":13,"d":-35,"v":20.5},{"t":13,"d":-42,"v":19.5},{"t":13,"d":-49,"v":18.5},{"t":13,"d":-56,"v":17.5},{"t":13,"d":-63,"v":16.5},
{"t":14,"d":-7,"v":28.5},{"t":14,"d":-14,"v":26.5},{"t":14,"d":-21,"v":24},{"t":14,"d":-28,"v":22},{"t":14,"d":-35,"v":20.5},{"t":14,"d":-42,"v":19.5},{"t":14,"d":-49,"v":18.5},{"t":14,"d":-56,"v":17.5},{"t":14,"d":-63,"v":16.5},
{"t":15,"d":-7,"v":28.5},{"t":15,"d":-14,"v":26.5},{"t":15,"d":-21,"v":24},{"t":15,"d":-28,"v":22},{"t":15,"d":-35,"v":20.5},{"t":15,"d":-42,"v":19.5},{"t":15,"d":-49,"v":18.5},{"t":15,"d":-56,"v":17.5},{"t":15,"d":-63,"v":16.5},
{"t":16,"d":-7,"v":28.5},{"t":16,"d":-14,"v":26.5},{"t":16,"d":-21,"v":24},{"t":16,"d":-28,"v":22},{"t":16,"d":-35,"v":20.5},{"t":16,"d":-42,"v":19.5},{"t":16,"d":-49,"v":18.5},{"t":16,"d":-56,"v":17.5},{"t":16,"d":-63,"v":16.5},
{"t":17,"d":-7,"v":28.5},{"t":17,"d":-14,"v":26.5},{"t":17,"d":-21,"v":24},{"t":17,"d":-28,"v":22},{"t":17,"d":-35,"v":20.5},{"t":17,"d":-42,"v":19.5},{"t":17,"d":-49,"v":18.5},{"t":17,"d":-56,"v":17.5},{"t":17,"d":-63,"v":17.5},
{"t":18,"d":-7,"v":28.8},{"t":18,"d":-14,"v":26.5},{"t":18,"d":-21,"v":24},{"t":18,"d":-28,"v":22},{"t":18,"d":-35,"v":20.5},{"t":18,"d":-42,"v":19.5},{"t":18,"d":-49,"v":18.5},{"t":18,"d":-56,"v":17.5},{"t":18,"d":-63,"v":16.5},
{"t":19,"d":-7,"v":28.8},{"t":19,"d":-14,"v":26.5},{"t":19,"d":-21,"v":24},{"t":19,"d":-28,"v":22},{"t":19,"d":-35,"v":20.5},{"t":19,"d":-42,"v":19.5},{"t":19,"d":-49,"v":18.5},{"t":19,"d":-56,"v":17.5},{"t":19,"d":-63,"v":16.5},
{"t":20,"d":-7,"v":28.8},{"t":20,"d":-14,"v":26.5},{"t":20,"d":-21,"v":24},{"t":20,"d":-28,"v":22},{"t":20,"d":-35,"v":20.5},{"t":20,"d":-42,"v":19.5},{"t":20,"d":-49,"v":18.5},{"t":20,"d":-56,"v":17.5},{"t":20,"d":-63,"v":16.5},
{"t":21,"d":-7,"v":28.5},{"t":21,"d":-14,"v":26.5},{"t":21,"d":-21,"v":24},{"t":21,"d":-28,"v":22},{"t":21,"d":-35,"v":20.5},{"t":21,"d":-42,"v":19.5},{"t":21,"d":-49,"v":18.5},{"t":21,"d":-56,"v":17.5},{"t":21,"d":-63,"v":16.5},
{"t":22,"d":-7,"v":28.5},{"t":22,"d":-14,"v":26.5},{"t":22,"d":-21,"v":24},{"t":22,"d":-28,"v":22},{"t":22,"d":-35,"v":20.5},{"t":22,"d":-42,"v":19.5},{"t":22,"d":-49,"v":18.5},{"t":22,"d":-56,"v":17.5},{"t":22,"d":-63,"v":16.5},
{"t":23,"d":-7,"v":28.5},{"t":23,"d":-14,"v":26.5},{"t":23,"d":-21,"v":24},{"t":23,"d":-28,"v":22},{"t":23,"d":-35,"v":20.5},{"t":23,"d":-42,"v":19.5},{"t":23,"d":-49,"v":18.5},{"t":23,"d":-56,"v":17.5},{"t":23,"d":-63,"v":17}],
"SA":[
{"t":0,"d":-7,"v":33.25},{"t":0,"d":-14,"v":33.65},{"t":0,"d":-21,"v":33.9},{"t":0,"d":-28,"v":34.02},{"t":0,"d":-35,"v":34.1},{"t":0,"d":-42,"v":34.18},{"t":0,"d":-49,"v":34.22},{"t":0,"d":-56,"v":34.25},{"t":0,"d":-63,"v":34.25},
{"t":1,"d":-7,"v":33.2},{"t":1,"d":-14,"v":33.6},{"t":1,"d":-21,"v":33.9},{"t":1,"d":-28,"v":34.02},{"t":1,"d":-35,"v":34.1},{"t":1,"d":-42,"v":34.18},{"t":1,"d":-49,"v":34.22},{"t":1,"d":-56,"v":34.25},{"t":1,"d":-63,"v":34.25},
{"t":2,"d":-7,"v":33.2},{"t":2,"d":-14,"v":33.6},{"t":2,"d":-21,"v":33.9},{"t":2,"d":-28,"v":34.02},{"t":2,"d":-35,"v":34.1},{"t":2,"d":-42,"v":34.18},{"t":2,"d":-49,"v":34.22},{"t":2,"d":-56,"v":34.3},{"t":2,"d":-63,"v":34.35},
{"t":3,"d":-7,"v":33.2},{"t":3,"d":-14,"v":33.6},{"t":3,"d":-21,"v":33.9},{"t":3,"d":-28,"v":34.02},{"t":3,"d":-35,"v":34.1},{"t":3,"d":-42,"v":34.18},{"t":3,"d":-49,"v":34.22},{"t":3,"d":-56,"v":34.38},{"t":3,"d":-63,"v":34.4},
{"t":4,"d":-7,"v":33.2},{"t":4,"d":-14,"v":33.6},{"t":4,"d":-21,"v":33.9},{"t":4,"d":-28,"v":34.02},{"t":4,"d":-35,"v":34.1},{"t":4,"d":-42,"v":34.18},{"t":4,"d":-49,"v":34.22},{"t":4,"d":-56,"v":34.38},{"t":4,"d":-63,"v":34.4},
{"t":5,"d":-7,"v":33.3},{"t":5,"d":-14,"v":33.65},{"t":5,"d":-21,"v":33.9},{"t":5,"d":-28,"v":34.02},{"t":5,"d":-35,"v":34.1},{"t":5,"d":-42,"v":34.18},{"t":5,"d":-49,"v":34.22},{"t":5,"d":-56,"v":34.3},{"t":5,"d":-63,"v":34.3},
{"t":6,"d":-7,"v":33.45},{"t":6,"d":-14,"v":33.6},{"t":6,"d":-21,"v":33.8},{"t":6,"d":-28,"v":33.98},{"t":6,"d":-35,"v":34.08},{"t":6,"d":-42,"v":34.15},{"t":6,"d":-49,"v":34.22},{"t":6,"d":-56,"v":34.25},{"t":6,"d":-63,"v":34.25},
{"t":7,"d":-7,"v":33.5},{"t":7,"d":-14,"v":33.65},{"t":7,"d":-21,"v":33.85},{"t":7,"d":-28,"v":34},{"t":7,"d":-35,"v":34.1},{"t":7,"d":-42,"v":34.18},{"t":7,"d":-49,"v":34.22},{"t":7,"d":-56,"v":34.25},{"t":7,"d":-63,"v":34.25},
{"t":8,"d":-7,"v":33.5},{"t":8,"d":-14,"v":33.65},{"t":8,"d":-21,"v":33.8},{"t":8,"d":-28,"v":33.95},{"t":8,"d":-35,"v":34.05},{"t":8,"d":-42,"v":34.12},{"t":8,"d":-49,"v":34.2},{"t":8,"d":-56,"v":34.25},{"t":8,"d":-63,"v":34.25},
{"t":9,"d":-7,"v":33.5},{"t":9,"d":-14,"v":33.62},{"t":9,"d":-21,"v":33.75},{"t":9,"d":-28,"v":33.9},{"t":9,"d":-35,"v":34},{"t":9,"d":-42,"v":34.08},{"t":9,"d":-49,"v":34.15},{"t":9,"d":-56,"v":34.22},{"t":9,"d":-63,"v":34.25},
{"t":10,"d":-7,"v":33.3},{"t":10,"d":-14,"v":33.6},{"t":10,"d":-21,"v":33.72},{"t":10,"d":-28,"v":33.87},{"t":10,"d":-35,"v":33.97},{"t":10,"d":-42,"v":34.05},{"t":10,"d":-49,"v":34.12},{"t":10,"d":-56,"v":34.2},{"t":10,"d":-63,"v":34.25},
{"t":11,"d":-7,"v":33.25},{"t":11,"d":-14,"v":33.58},{"t":11,"d":-21,"v":33.72},{"t":11,"d":-28,"v":33.87},{"t":11,"d":-35,"v":33.97},{"t":11,"d":-42,"v":34.05},{"t":11,"d":-49,"v":34.12},{"t":11,"d":-56,"v":34.2},{"t":11,"d":-63,"v":34.22},
{"t":12,"d":-7,"v":33.25},{"t":12,"d":-14,"v":33.6},{"t":12,"d":-21,"v":33.75},{"t":12,"d":-28,"v":33.9},{"t":12,"d":-35,"v":34},{"t":12,"d":-42,"v":34.08},{"t":12,"d":-49,"v":34.15},{"t":12,"d":-56,"v":34.22},{"t":12,"d":-63,"v":34.22},
{"t":13,"d":-7,"v":33.35},{"t":13,"d":-14,"v":33.62},{"t":13,"d":-21,"v":33.78},{"t":13,"d":-28,"v":33.92},{"t":13,"d":-35,"v":34.02},{"t":13,"d":-42,"v":34.1},{"t":13,"d":-49,"v":34.18},{"t":13,"d":-56,"v":34.22},{"t":13,"d":-63,"v":34.22},
{"t":14,"d":-7,"v":33.35},{"t":14,"d":-14,"v":33.62},{"t":14,"d":-21,"v":33.78},{"t":14,"d":-28,"v":33.92},{"t":14,"d":-35,"v":34.02},{"t":14,"d":-42,"v":34.1},{"t":14,"d":-49,"v":34.18},{"t":14,"d":-56,"v":34.22},{"t":14,"d":-63,"v":34.22},
{"t":15,"d":-7,"v":33.35},{"t":15,"d":-14,"v":33.62},{"t":15,"d":-21,"v":33.78},{"t":15,"d":-28,"v":33.92},{"t":15,"d":-35,"v":34.02},{"t":15,"d":-42,"v":34.1},{"t":15,"d":-49,"v":34.18},{"t":15,"d":-56,"v":34.22},{"t":15,"d":-63,"v":34.22},
{"t":16,"d":-7,"v":33.35},{"t":16,"d":-14,"v":33.62},{"t":16,"d":-21,"v":33.78},{"t":16,"d":-28,"v":33.92},{"t":16,"d":-35,"v":34.02},{"t":16,"d":-42,"v":34.1},{"t":16,"d":-49,"v":34.18},{"t":16,"d":-56,"v":34.22},{"t":16,"d":-63,"v":34.22},
{"t":17,"d":-7,"v":33.35},{"t":17,"d":-14,"v":33.62},{"t":17,"d":-21,"v":33.78},{"t":17,"d":-28,"v":33.92},{"t":17,"d":-35,"v":34.02},{"t":17,"d":-42,"v":34.1},{"t":17,"d":-49,"v":34.18},{"t":17,"d":-56,"v":34.22},{"t":17,"d":-63,"v":34.22},
{"t":18,"d":-7,"v":33.4},{"t":18,"d":-14,"v":33.65},{"t":18,"d":-21,"v":33.8},{"t":18,"d":-28,"v":33.95},{"t":18,"d":-35,"v":34.05},{"t":18,"d":-42,"v":34.12},{"t":18,"d":-49,"v":34.2},{"t":18,"d":-56,"v":34.22},{"t":18,"d":-63,"v":34.22},
{"t":19,"d":-7,"v":33.4},{"t":19,"d":-14,"v":33.65},{"t":19,"d":-21,"v":33.8},{"t":19,"d":-28,"v":33.95},{"t":19,"d":-35,"v":34.05},{"t":19,"d":-42,"v":34.12},{"t":19,"d":-49,"v":34.2},{"t":19,"d":-56,"v":34.22},{"t":19,"d":-63,"v":34.22},
{"t":20,"d":-7,"v":33.4},{"t":20,"d":-14,"v":33.65},{"t":20,"d":-21,"v":33.8},{"t":20,"d":-28,"v":33.95},{"t":20,"d":-35,"v":34.05},{"t":20,"d":-42,"v":34.12},{"t":20,"d":-49,"v":34.2},{"t":20,"d":-56,"v":34.22},{"t":20,"d":-63,"v":34.22},
{"t":21,"d":-7,"v":33.4},{"t":21,"d":-14,"v":33.65},{"t":21,"d":-21,"v":33.8},{"t":21,"d":-28,"v":33.95},{"t":21,"d":-35,"v":34.05},{"t":21,"d":-42,"v":34.12},{"t":21,"d":-49,"v":34.2},{"t":21,"d":-56,"v":34.22},{"t":21,"d":-63,"v":34.22},
{"t":22,"d":-7,"v":33.4},{"t":22,"d":-14,"v":33.65},{"t":22,"d":-21,"v":33.8},{"t":22,"d":-28,"v":33.95},{"t":22,"d":-35,"v":34.05},{"t":22,"d":-42,"v":34.12},{"t":22,"d":-49,"v":34.2},{"t":22,"d":-56,"v":34.22},{"t":22,"d":-63,"v":34.22},
{"t":23,"d":-7,"v":33.4},{"t":23,"d":-14,"v":33.65},{"t":23,"d":-21,"v":33.8},{"t":23,"d":-28,"v":33.95},{"t":23,"d":-35,"v":34.05},{"t":23,"d":-42,"v":34.12},{"t":23,"d":-49,"v":34.2},{"t":23,"d":-56,"v":34.22},{"t":23,"d":-63,"v":34.22}]
},
"spacing":56,
"vconcat":[
 {"hconcat":[
   {"width":233,"height":1,"view":{"stroke":null},"data":{"values":[]},"mark":"point"},
   {"vconcat":[
     {"vconcat":[
       {"vconcat":[
         {"vconcat":[
           {"width":309,"height":55,"title":{"text":"Station B","fontSize":10,"fontWeight":"bold","offset":-3,"color":"#222"},
            "layer":[
             {"data":{"name":"windB"},"mark":{"type":"rule","color":"#0072BD","strokeWidth":1,"clip":true},
              "encoding":{"x":{"field":"e","type":"quantitative","scale":{"domain":[0,23.45],"nice":false,"zero":false},"axis":{"values":[2,4,6,8,10,12,14,16,18,20,22],"tickCount":50,"labels":false,"title":null}},
               "x2":{"field":"t"},
               "y":{"field":"w","type":"quantitative","scale":{"domain":[-20,20],"nice":false},"axis":{"values":[-20,-10,0,10,20],"tickCount":50,"title":"wind vel/(m/s)","labelExpr":"''+datum.value","labelOverlap":false}},
               "y2":{"datum":0}}},
             {"data":{"values":[{}]},"mark":{"type":"rule","color":"#999","strokeWidth":1},"encoding":{"y":{"datum":0,"type":"quantitative"}}},
             {"data":{"values":[{"t":21.55,"e":22.75,"w":12.5}]},"mark":{"type":"rule","color":"#0000ff","strokeWidth":1.2},"encoding":{"x":{"field":"t","type":"quantitative"},"x2":{"field":"e"},"y":{"field":"w","type":"quantitative"}}},
             {"data":{"values":[{"t":22.15,"w":14,"lbl":"5m/s"}]},"mark":{"type":"text","fontSize":8,"fontWeight":"bold","baseline":"bottom","color":"#111"},"encoding":{"x":{"field":"t","type":"quantitative"},"y":{"field":"w","type":"quantitative"},"text":{"field":"lbl"}}}
            ]},
           {"width":309,"height":56,
            "layer":[
             {"data":{"name":"stressB"},"mark":{"type":"line","strokeWidth":1,"clip":true},
              "encoding":{"x":{"field":"t","type":"quantitative","scale":{"domain":[0,23.45],"nice":false,"zero":false},"axis":{"values":[2,4,6,8,10,12,14,16,18,20,22],"tickCount":50,"labels":false,"title":null}},
               "y":{"field":"v","type":"quantitative","scale":{"domain":[-0.6,0.2],"nice":false},"axis":{"values":[-0.6,-0.5,-0.4,-0.3,-0.2,-0.1,0,0.1,0.2],"tickCount":50,"title":"windstr/(N/m²)","labelExpr":"''+datum.value","labelOverlap":false}},
               "color":{"field":"s","type":"nominal","scale":{"domain":["across shore","along-shore"],"range":["#ff0000","#0000ff"]},"legend":{"orient":"none","legendX":233,"legendY":25,"title":null,"fillColor":"white","strokeColor":"#333","padding":2,"labelFontSize":8,"labelFontWeight":"bold","symbolType":"stroke","symbolStrokeWidth":1.2,"symbolSize":110,"rowPadding":0,"labelOffset":4}}}},
             {"data":{"values":[{}]},"mark":{"type":"rule","color":"#000","strokeWidth":0.6},"encoding":{"y":{"datum":0,"type":"quantitative"}}}
            ]}
         ],"spacing":4,"resolve":{"scale":{"x":"independent","y":"independent","color":"independent"},"legend":{"color":"independent"}}},
         {"width":309,"height":55,"data":{"name":"TB"},"mark":{"type":"rect","clip":true},
          "encoding":{"x":{"field":"t","type":"quantitative","bin":{"binned":true,"step":1},"scale":{"domain":[0,23.45],"nice":false,"zero":false},"axis":{"values":[2,4,6,8,10,12,14,16,18,20,22],"tickCount":50,"labels":false,"title":null}},
           "y":{"field":"d","type":"quantitative","bin":{"binned":true,"step":5},"scale":{"domain":[-43,0],"nice":false,"zero":false},"axis":{"values":[-10,-20,-30,-43],"tickCount":50,"title":"depth/(m)","labelExpr":"''+datum.value","labelOverlap":false}},
           "color":{"field":"v","type":"quantitative","scale":{"domain":[16,30],"range":["#00007f","#0000ff","#007fff","#00ffff","#7fff7f","#ffff00","#ff7f00","#ff0000","#7f0000"]},"legend":{"title":"T/°C","titleOrient":"right","orient":"right","offset":5,"direction":"vertical","gradientLength":55,"gradientThickness":9,"values":[16,18,20,22,24,26,28,30],"gradientStrokeColor":"#333","gradientStrokeWidth":0.5,"labelExpr":"''+datum.value","labelOverlap":false,"titlePadding":3,"encode":{"labels":{"update":{"baseline":{"value":"middle"}}}}}}}}
       ],"spacing":10,"resolve":{"scale":{"x":"independent","y":"independent","color":"independent"},"legend":{"color":"independent"}}},
       {"width":309,"height":56,"data":{"name":"SB"},"mark":{"type":"rect","clip":true},
        "encoding":{"x":{"field":"t","type":"quantitative","bin":{"binned":true,"step":1},"scale":{"domain":[0,23.45],"nice":false,"zero":false},"axis":{"values":[2,4,6,8,10,12,14,16,18,20,22],"tickCount":50,"labels":false,"title":null}},
         "y":{"field":"d","type":"quantitative","bin":{"binned":true,"step":5},"scale":{"domain":[-43,0],"nice":false,"zero":false},"axis":{"values":[-10,-20,-30,-43],"tickCount":50,"title":"depth/(m)","labelExpr":"''+datum.value","labelOverlap":false}},
         "color":{"field":"v","type":"quantitative","scale":{"domain":[33,34.4],"range":["#00007f","#0000ff","#007fff","#00ffff","#7fff7f","#ffff00","#ff7f00","#ff0000","#7f0000"]},"legend":{"title":"S/psu","titleOrient":"right","orient":"right","offset":5,"direction":"vertical","gradientLength":56,"gradientThickness":9,"values":[33,33.2,33.4,33.6,33.8,34,34.2,34.4],"gradientStrokeColor":"#333","gradientStrokeWidth":0.5,"labelExpr":"''+datum.value","labelOverlap":false,"titlePadding":3,"encode":{"labels":{"update":{"baseline":{"value":"middle"}}}}}}}}
     ],"spacing":9,"resolve":{"scale":{"x":"independent","y":"independent","color":"independent"},"legend":{"color":"independent"}}},
     {"width":309,"height":55,
      "layer":[
       {"layer":[
         {"data":{"name":"botB"},"transform":[{"filter":"datum.s=='Wc'"}],"mark":{"type":"line","strokeWidth":1.4,"clip":true},
          "encoding":{"x":{"field":"t","type":"quantitative","scale":{"domain":[0,23.45],"nice":false,"zero":false},"axis":{"values":[0,2,4,6,8,10,12,14,16,18,20,22,23.4],"tickCount":50,"labelExpr":"timeFormat(datetime(2017,6,12+floor(datum.value)),'%-m/%-d')","labelFlush":false,"labelOverlap":false,"title":null,"labelPadding":4}},
           "y":{"field":"v","type":"quantitative","scale":{"domain":[-1,2],"nice":false,"zero":false},"axis":{"orient":"left","offset":15,"values":[-1,-0.4,0,0.2,0.8,1.4,2],"tickCount":50,"title":"Wc/(m/s)","labelExpr":"''+datum.value","labelOverlap":false,"labelFontSize":6.5,"labelColor":"#0000ff","titleColor":"#0000ff","domain":true,"domainColor":"#0000ff","tickColor":"#0000ff","titlePadding":7,"labelPadding":1,"encode":{"labels":{"update":{"baseline":{"signal":"datum.value === 0.2 ? 'bottom' : (datum.value === 0 || datum.value === -0.4) ? 'top' : 'middle'"}}}}}},
           "color":{"field":"s","type":"nominal","scale":{"domain":["EPV","Wc","MLD"],"range":["#ff0000","#0000ff","#000000"]},"legend":{"orient":"none","legendX":212,"legendY":0,"title":null,"fillColor":"white","strokeColor":"#333","padding":2,"labelFontSize":8,"labelFontWeight":"bold","symbolType":"stroke","symbolStrokeWidth":1.5,"symbolSize":100,"rowPadding":0,"labelOffset":4}},
           "strokeDash":{"field":"s","type":"nominal","scale":{"domain":["EPV","Wc","MLD"],"range":[[1,0],[1,0],[4,2]]},"legend":{"orient":"none","legendX":212,"legendY":0,"title":null}}}},
         {"data":{"values":[{"t":0,"v":2,"lbl":"×10⁻⁵"}]},"mark":{"type":"text","color":"#0000ff","fontSize":7.5,"align":"right","baseline":"bottom","dx":-20,"dy":-1},"encoding":{"x":{"field":"t","type":"quantitative"},"y":{"field":"v","type":"quantitative"},"text":{"field":"lbl"}}}
       ]},
       {"layer":[
         {"data":{"name":"botB"},"transform":[{"filter":"datum.s=='EPV'"}],"mark":{"type":"line","strokeWidth":1.4,"clip":true},
          "encoding":{"x":{"field":"t","type":"quantitative"},
           "y":{"field":"v","type":"quantitative","scale":{"domain":[-5,10],"nice":false,"zero":false},"axis":{"orient":"left","values":[-5,-2,0,1,4,7,10],"tickCount":50,"title":"EPV/(m/s)","labelExpr":"''+datum.value","labelOverlap":false,"labelFontSize":6.5,"labelColor":"#ff0000","titleColor":"#ff0000","domain":true,"domainColor":"#ff0000","tickColor":"#ff0000","titlePadding":1,"labelPadding":2,"encode":{"labels":{"update":{"baseline":{"signal":"datum.value === 1 ? 'bottom' : (datum.value === 0 || datum.value === -2) ? 'top' : 'middle'"}}}}}},
           "color":{"field":"s","type":"nominal"},
           "strokeDash":{"field":"s","type":"nominal"}}},
         {"data":{"values":[{"t":0,"v":10,"lbl":"×10⁻⁴"}]},"mark":{"type":"text","color":"#ff0000","fontSize":7.5,"align":"left","baseline":"bottom","dx":-1,"dy":-1},"encoding":{"x":{"field":"t","type":"quantitative"},"y":{"field":"v","type":"quantitative"},"text":{"field":"lbl"}}}
       ]},
       {"data":{"name":"botB"},"transform":[{"filter":"datum.s=='MLD'"}],"mark":{"type":"line","strokeWidth":1.4,"clip":true},
        "encoding":{"x":{"field":"t","type":"quantitative"},
         "y":{"field":"v","type":"quantitative","scale":{"domain":[0,20],"nice":false},"axis":{"orient":"right","values":[0,4,8,12,16,20],"tickCount":50,"title":"MLD/(m)","labelExpr":"''+datum.value","labelOverlap":false}},
         "color":{"field":"s","type":"nominal"},
         "strokeDash":{"field":"s","type":"nominal"}}}
      ],
      "resolve":{"scale":{"y":"independent"},"axis":{"y":"independent"}}}
   ],"spacing":0,"resolve":{"scale":{"x":"independent","y":"independent","color":"independent","strokeDash":"independent"},"legend":{"color":"independent","strokeDash":"independent"}}},
   {"vconcat":[
     {"vconcat":[
       {"vconcat":[
         {"vconcat":[
           {"width":309,"height":55,"title":{"text":"Station A","fontSize":10,"fontWeight":"bold","offset":-3,"color":"#222"},
            "layer":[
             {"data":{"name":"windA"},"mark":{"type":"rule","color":"#0072BD","strokeWidth":1,"clip":true},
              "encoding":{"x":{"field":"e","type":"quantitative","scale":{"domain":[0,23.45],"nice":false,"zero":false},"axis":{"values":[2,4,6,8,10,12,14,16,18,20,22],"tickCount":50,"labels":false,"title":null}},
               "x2":{"field":"t"},
               "y":{"field":"w","type":"quantitative","scale":{"domain":[-20,20],"nice":false},"axis":{"values":[-20,-10,0,10,20],"tickCount":50,"title":"wind vel/(m/s)","labelExpr":"''+datum.value","labelOverlap":false}},
               "y2":{"datum":0}}},
             {"data":{"values":[{}]},"mark":{"type":"rule","color":"#999","strokeWidth":1},"encoding":{"y":{"datum":0,"type":"quantitative"}}},
             {"data":{"values":[{"t":21.55,"e":22.75,"w":12.5}]},"mark":{"type":"rule","color":"#0000ff","strokeWidth":1.2},"encoding":{"x":{"field":"t","type":"quantitative"},"x2":{"field":"e"},"y":{"field":"w","type":"quantitative"}}},
             {"data":{"values":[{"t":22.15,"w":14,"lbl":"5m/s"}]},"mark":{"type":"text","fontSize":8,"fontWeight":"bold","baseline":"bottom","color":"#111"},"encoding":{"x":{"field":"t","type":"quantitative"},"y":{"field":"w","type":"quantitative"},"text":{"field":"lbl"}}}
            ]},
           {"width":309,"height":56,
            "layer":[
             {"data":{"name":"stressA"},"mark":{"type":"line","strokeWidth":1,"clip":true},
              "encoding":{"x":{"field":"t","type":"quantitative","scale":{"domain":[0,23.45],"nice":false,"zero":false},"axis":{"values":[2,4,6,8,10,12,14,16,18,20,22],"tickCount":50,"labels":false,"title":null}},
               "y":{"field":"v","type":"quantitative","scale":{"domain":[-0.6,0.2],"nice":false},"axis":{"values":[-0.6,-0.5,-0.4,-0.3,-0.2,-0.1,0,0.1,0.2],"tickCount":50,"title":"windstr/(N/m²)","labelExpr":"''+datum.value","labelOverlap":false}},
               "color":{"field":"s","type":"nominal","scale":{"domain":["across shore","along-shore"],"range":["#ff0000","#0000ff"]},"legend":{"orient":"none","legendX":233,"legendY":23,"title":null,"fillColor":"white","strokeColor":"#333","padding":2,"labelFontSize":8,"labelFontWeight":"bold","symbolType":"stroke","symbolStrokeWidth":1.2,"symbolSize":110,"rowPadding":0,"labelOffset":4}}}},
             {"data":{"values":[{}]},"mark":{"type":"rule","color":"#000","strokeWidth":0.6},"encoding":{"y":{"datum":0,"type":"quantitative"}}}
            ]}
         ],"spacing":4,"resolve":{"scale":{"x":"independent","y":"independent","color":"independent"},"legend":{"color":"independent"}}},
         {"width":309,"height":55,"data":{"name":"TA"},"mark":{"type":"rect","clip":true},
          "encoding":{"x":{"field":"t","type":"quantitative","bin":{"binned":true,"step":1},"scale":{"domain":[0,23.45],"nice":false,"zero":false},"axis":{"values":[2,4,6,8,10,12,14,16,18,20,22],"tickCount":50,"labels":false,"title":null}},
           "y":{"field":"d","type":"quantitative","bin":{"binned":true,"step":7},"scale":{"domain":[-63,0],"nice":false,"zero":false},"axis":{"values":[-10,-20,-30,-40,-50,-63],"tickCount":50,"title":"depth/(m)","labelExpr":"''+datum.value","labelOverlap":false}},
           "color":{"field":"v","type":"quantitative","scale":{"domain":[16,30],"range":["#00007f","#0000ff","#007fff","#00ffff","#7fff7f","#ffff00","#ff7f00","#ff0000","#7f0000"]},"legend":{"title":"T/°C","titleOrient":"right","orient":"right","offset":5,"direction":"vertical","gradientLength":55,"gradientThickness":9,"values":[16,18,20,22,24,26,28,30],"gradientStrokeColor":"#333","gradientStrokeWidth":0.5,"labelExpr":"''+datum.value","labelOverlap":false,"titlePadding":3,"encode":{"labels":{"update":{"baseline":{"value":"middle"}}}}}}}}
       ],"spacing":10,"resolve":{"scale":{"x":"independent","y":"independent","color":"independent"},"legend":{"color":"independent"}}},
       {"width":309,"height":56,"data":{"name":"SA"},"mark":{"type":"rect","clip":true},
        "encoding":{"x":{"field":"t","type":"quantitative","bin":{"binned":true,"step":1},"scale":{"domain":[0,23.45],"nice":false,"zero":false},"axis":{"values":[2,4,6,8,10,12,14,16,18,20,22],"tickCount":50,"labels":false,"title":null}},
         "y":{"field":"d","type":"quantitative","bin":{"binned":true,"step":7},"scale":{"domain":[-63,0],"nice":false,"zero":false},"axis":{"values":[-10,-20,-30,-40,-50,-63],"tickCount":50,"title":"depth/(m)","labelExpr":"''+datum.value","labelOverlap":false}},
         "color":{"field":"v","type":"quantitative","scale":{"domain":[33,34.4],"range":["#00007f","#0000ff","#007fff","#00ffff","#7fff7f","#ffff00","#ff7f00","#ff0000","#7f0000"]},"legend":{"title":"S/psu","titleOrient":"right","orient":"right","offset":5,"direction":"vertical","gradientLength":56,"gradientThickness":9,"values":[33,33.2,33.4,33.6,33.8,34,34.2,34.4],"gradientStrokeColor":"#333","gradientStrokeWidth":0.5,"labelExpr":"''+datum.value","labelOverlap":false,"titlePadding":3,"encode":{"labels":{"update":{"baseline":{"value":"middle"}}}}}}}}
     ],"spacing":9,"resolve":{"scale":{"x":"independent","y":"independent","color":"independent"},"legend":{"color":"independent"}}},
     {"width":309,"height":55,
      "layer":[
       {"layer":[
         {"data":{"name":"botA"},"transform":[{"filter":"datum.s=='Wc'"}],"mark":{"type":"line","strokeWidth":1.4,"clip":true},
          "encoding":{"x":{"field":"t","type":"quantitative","scale":{"domain":[0,23.45],"nice":false,"zero":false},"axis":{"values":[0,2,4,6,8,10,12,14,16,18,20,22,23.4],"tickCount":50,"labelExpr":"timeFormat(datetime(2017,6,12+floor(datum.value)),'%-m/%-d')","labelFlush":false,"labelOverlap":false,"title":null,"labelPadding":4}},
           "y":{"field":"v","type":"quantitative","scale":{"domain":[-1,2],"nice":false,"zero":false},"axis":{"orient":"left","offset":15,"values":[-1,-0.4,0,0.2,0.8,1.4,2],"tickCount":50,"title":"Wc/(m/s)","labelExpr":"''+datum.value","labelOverlap":false,"labelFontSize":6.5,"labelColor":"#0000ff","titleColor":"#0000ff","domain":true,"domainColor":"#0000ff","tickColor":"#0000ff","titlePadding":7,"labelPadding":1,"encode":{"labels":{"update":{"baseline":{"signal":"datum.value === 0.2 ? 'bottom' : (datum.value === 0 || datum.value === -0.4) ? 'top' : 'middle'"}}}}}},
           "color":{"field":"s","type":"nominal","scale":{"domain":["EPV","Wc","MLD"],"range":["#ff0000","#0000ff","#000000"]},"legend":{"orient":"none","legendX":210,"legendY":0,"title":null,"fillColor":"white","strokeColor":"#333","padding":2,"labelFontSize":8,"labelFontWeight":"bold","symbolType":"stroke","symbolStrokeWidth":1.5,"symbolSize":100,"rowPadding":0,"labelOffset":4}},
           "strokeDash":{"field":"s","type":"nominal","scale":{"domain":["EPV","Wc","MLD"],"range":[[1,0],[1,0],[4,2]]},"legend":{"orient":"none","legendX":210,"legendY":0,"title":null}}}},
         {"data":{"values":[{"t":0,"v":2,"lbl":"×10⁻⁵"}]},"mark":{"type":"text","color":"#0000ff","fontSize":7.5,"align":"right","baseline":"bottom","dx":-20,"dy":-1},"encoding":{"x":{"field":"t","type":"quantitative"},"y":{"field":"v","type":"quantitative"},"text":{"field":"lbl"}}}
       ]},
       {"layer":[
         {"data":{"name":"botA"},"transform":[{"filter":"datum.s=='EPV'"}],"mark":{"type":"line","strokeWidth":1.4,"clip":true},
          "encoding":{"x":{"field":"t","type":"quantitative"},
           "y":{"field":"v","type":"quantitative","scale":{"domain":[-5,10],"nice":false,"zero":false},"axis":{"orient":"left","values":[-5,-2,0,1,4,7,10],"tickCount":50,"title":"EPV/(m/s)","labelExpr":"''+datum.value","labelOverlap":false,"labelFontSize":6.5,"labelColor":"#ff0000","titleColor":"#ff0000","domain":true,"domainColor":"#ff0000","tickColor":"#ff0000","titlePadding":1,"labelPadding":2,"encode":{"labels":{"update":{"baseline":{"signal":"datum.value === 1 ? 'bottom' : (datum.value === 0 || datum.value === -2) ? 'top' : 'middle'"}}}}}},
           "color":{"field":"s","type":"nominal"},
           "strokeDash":{"field":"s","type":"nominal"}}},
         {"data":{"values":[{"t":0,"v":10,"lbl":"×10⁻⁴"}]},"mark":{"type":"text","color":"#ff0000","fontSize":7.5,"align":"left","baseline":"bottom","dx":-1,"dy":-1},"encoding":{"x":{"field":"t","type":"quantitative"},"y":{"field":"v","type":"quantitative"},"text":{"field":"lbl"}}}
       ]},
       {"data":{"name":"botA"},"transform":[{"filter":"datum.s=='MLD'"}],"mark":{"type":"line","strokeWidth":1.4,"clip":true},
        "encoding":{"x":{"field":"t","type":"quantitative"},
         "y":{"field":"v","type":"quantitative","scale":{"domain":[0,20],"nice":false},"axis":{"orient":"right","values":[0,4,8,12,16,20],"tickCount":50,"title":"MLD/(m)","labelExpr":"''+datum.value","labelOverlap":false}},
         "color":{"field":"s","type":"nominal"},
         "strokeDash":{"field":"s","type":"nominal"}}}
      ],
      "resolve":{"scale":{"y":"independent"},"axis":{"y":"independent"}}}
   ],"spacing":0,"resolve":{"scale":{"x":"independent","y":"independent","color":"independent","strokeDash":"independent"},"legend":{"color":"independent","strokeDash":"independent"}}}
 ],"spacing":27,"resolve":{"scale":{"x":"independent","y":"independent","color":"independent","strokeDash":"independent"},"legend":{"color":"independent","strokeDash":"independent"}}},
 {"vconcat":[
   {"hconcat":[
     {"width":1,"height":1,"view":{"stroke":null},"data":{"values":[{"txt":"FIGURE 8 |"}]},"mark":{"type":"text","align":"left","baseline":"top","fontSize":15,"fontWeight":"bold","color":"#333"},"encoding":{"text":{"field":"txt"}}},
     {"width":1,"height":1,"view":{"stroke":null},"data":{"values":[{"txt":"Time"}]},"mark":{"type":"text","align":"left","baseline":"top","fontSize":15,"color":"#333"},"encoding":{"text":{"field":"txt"}}},
     {"width":1,"height":1,"view":{"stroke":null},"data":{"values":[{"txt":"series"}]},"mark":{"type":"text","align":"left","baseline":"top","fontSize":15,"color":"#333"},"encoding":{"text":{"field":"txt"}}},
     {"width":1,"height":1,"view":{"stroke":null},"data":{"values":[{"txt":"of"}]},"mark":{"type":"text","align":"left","baseline":"top","fontSize":15,"color":"#333"},"encoding":{"text":{"field":"txt"}}},
     {"width":1,"height":1,"view":{"stroke":null},"data":{"values":[{"txt":"(from"}]},"mark":{"type":"text","align":"left","baseline":"top","fontSize":15,"color":"#333"},"encoding":{"text":{"field":"txt"}}},
     {"width":1,"height":1,"view":{"stroke":null},"data":{"values":[{"txt":"top"}]},"mark":{"type":"text","align":"left","baseline":"top","fontSize":15,"color":"#333"},"encoding":{"text":{"field":"txt"}}},
     {"width":1,"height":1,"view":{"stroke":null},"data":{"values":[{"txt":"to"}]},"mark":{"type":"text","align":"left","baseline":"top","fontSize":15,"color":"#333"},"encoding":{"text":{"field":"txt"}}},
     {"width":1,"height":1,"view":{"stroke":null},"data":{"values":[{"txt":"bottom)"}]},"mark":{"type":"text","align":"left","baseline":"top","fontSize":15,"color":"#333"},"encoding":{"text":{"field":"txt"}}},
     {"width":1,"height":1,"view":{"stroke":null},"data":{"values":[{"txt":"wind"}]},"mark":{"type":"text","align":"left","baseline":"top","fontSize":15,"color":"#333"},"encoding":{"text":{"field":"txt"}}},
     {"width":1,"height":1,"view":{"stroke":null},"data":{"values":[{"txt":"vectors,"}]},"mark":{"type":"text","align":"left","baseline":"top","fontSize":15,"color":"#333"},"encoding":{"text":{"field":"txt"}}},
     {"width":1,"height":1,"view":{"stroke":null},"data":{"values":[{"txt":"wind"}]},"mark":{"type":"text","align":"left","baseline":"top","fontSize":15,"color":"#333"},"encoding":{"text":{"field":"txt"}}},
     {"width":1,"height":1,"view":{"stroke":null},"data":{"values":[{"txt":"stress,"}]},"mark":{"type":"text","align":"left","baseline":"top","fontSize":15,"color":"#333"},"encoding":{"text":{"field":"txt"}}},
     {"width":1,"height":1,"view":{"stroke":null},"data":{"values":[{"txt":"modeled"}]},"mark":{"type":"text","align":"left","baseline":"top","fontSize":15,"color":"#333"},"encoding":{"text":{"field":"txt"}}},
     {"width":1,"height":1,"view":{"stroke":null},"data":{"values":[{"txt":"vertical"}]},"mark":{"type":"text","align":"left","baseline":"top","fontSize":15,"color":"#333"},"encoding":{"text":{"field":"txt"}}},
     {"width":1,"height":1,"view":{"stroke":null},"data":{"values":[{"txt":"profiles"}]},"mark":{"type":"text","align":"left","baseline":"top","fontSize":15,"color":"#333"},"encoding":{"text":{"field":"txt"}}},
     {"width":1,"height":1,"view":{"stroke":null},"data":{"values":[{"txt":"of"}]},"mark":{"type":"text","align":"left","baseline":"top","fontSize":15,"color":"#333"},"encoding":{"text":{"field":"txt"}}},
     {"width":1,"height":1,"view":{"stroke":null},"data":{"values":[{"txt":"temperature"}]},"mark":{"type":"text","align":"left","baseline":"top","fontSize":15,"color":"#333"},"encoding":{"text":{"field":"txt"}}},
     {"width":1,"height":1,"view":{"stroke":null},"data":{"values":[{"txt":"and"}]},"mark":{"type":"text","align":"left","baseline":"top","fontSize":15,"color":"#333"},"encoding":{"text":{"field":"txt"}}},
     {"width":1,"height":1,"view":{"stroke":null},"data":{"values":[{"txt":"salinity,"}]},"mark":{"type":"text","align":"left","baseline":"top","fontSize":15,"color":"#333"},"encoding":{"text":{"field":"txt"}}},
     {"width":1,"height":1,"view":{"stroke":null},"data":{"values":[{"txt":"and"}]},"mark":{"type":"text","align":"left","baseline":"top","fontSize":15,"color":"#333"},"encoding":{"text":{"field":"txt"}}},
     {"width":1,"height":1,"view":{"stroke":null},"data":{"values":[{"txt":"mixed-layer"}]},"mark":{"type":"text","align":"left","baseline":"top","fontSize":15,"color":"#333"},"encoding":{"text":{"field":"txt"}}},
     {"width":1,"height":1,"view":{"stroke":null},"data":{"values":[{"txt":"depth"}]},"mark":{"type":"text","align":"left","baseline":"top","fontSize":15,"color":"#333"},"encoding":{"text":{"field":"txt"}}},
     {"width":1,"height":1,"view":{"stroke":null},"data":{"values":[{"txt":"together"}]},"mark":{"type":"text","align":"left","baseline":"top","fontSize":15,"color":"#333"},"encoding":{"text":{"field":"txt"}}},
     {"width":1,"height":1,"view":{"stroke":null},"data":{"values":[{"txt":"with"}]},"mark":{"type":"text","align":"left","baseline":"top","fontSize":15,"color":"#333"},"encoding":{"text":{"field":"txt"}}}
   ],"spacing":13.1},
   {"hconcat":[
     {"width":1,"height":1,"view":{"stroke":null},"data":{"values":[{"txt":"Ekman pumping velocity (EPV) and coastal upwelling velocity (Wc) at stations "}]},"mark":{"type":"text","align":"left","baseline":"top","fontSize":15,"color":"#333"},"encoding":{"text":{"field":"txt"}}},
     {"width":1,"height":1,"view":{"stroke":null},"data":{"values":[{"txt":"(B)"}]},"mark":{"type":"text","align":"left","baseline":"top","fontSize":15,"fontWeight":"bold","color":"#333"},"encoding":{"text":{"field":"txt"}}},
     {"width":1,"height":1,"view":{"stroke":null},"data":{"values":[{"txt":" (left) and "}]},"mark":{"type":"text","align":"left","baseline":"top","fontSize":15,"color":"#333"},"encoding":{"text":{"field":"txt"}}},
     {"width":1,"height":1,"view":{"stroke":null},"data":{"values":[{"txt":"(A)"}]},"mark":{"type":"text","align":"left","baseline":"top","fontSize":15,"fontWeight":"bold","color":"#333"},"encoding":{"text":{"field":"txt"}}},
     {"width":1,"height":1,"view":{"stroke":null},"data":{"values":[{"txt":" (right)."}]},"mark":{"type":"text","align":"left","baseline":"top","fontSize":15,"color":"#333"},"encoding":{"text":{"field":"txt"}}}
   ],"spacing":0}
 ],"spacing":7}
]
}
